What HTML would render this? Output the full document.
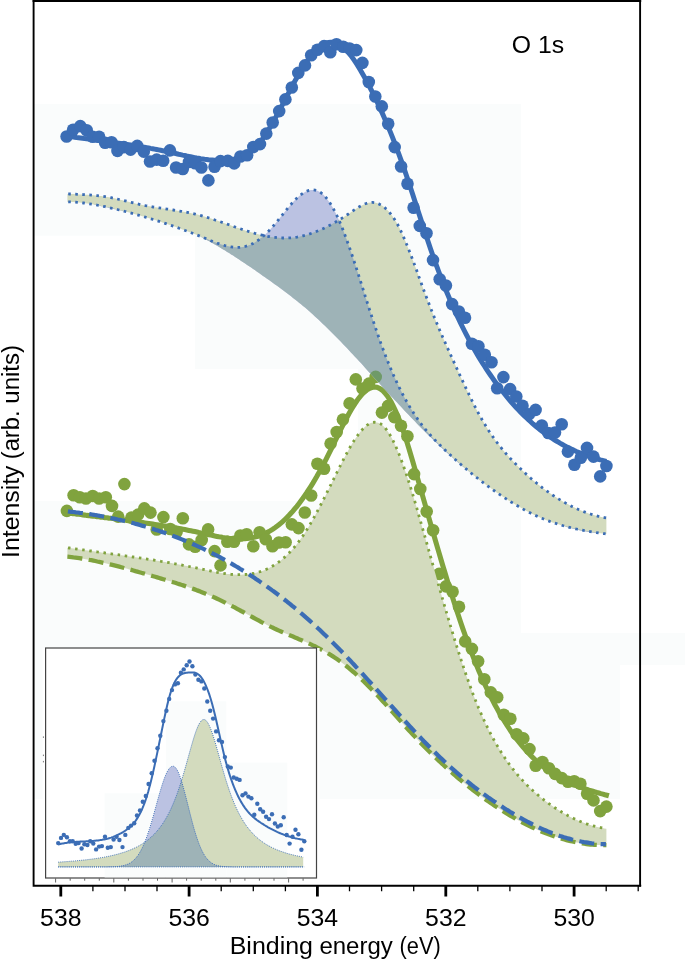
<!DOCTYPE html>
<html lang="en"><head><meta charset="utf-8"><title>O 1s XPS</title>
<style>html,body{margin:0;padding:0;background:#fff}svg{display:block}</style></head>
<body>
<svg width="685" height="959" viewBox="0 0 685 959">
<rect width="685" height="959" fill="#fff"/>
<rect x="34" y="104" width="487" height="131.7" fill="#fafcfc"/>
<rect x="195" y="235.7" width="326" height="133.3" fill="#fafcfc"/>
<rect x="358" y="369" width="163" height="132" fill="#fafcfc"/>
<rect x="34" y="501" width="487" height="132" fill="#fafcfc"/>
<rect x="34" y="633" width="651" height="32" fill="#fafcfc"/>
<rect x="34" y="665" width="586" height="134" fill="#fafcfc"/>
<path d="M67.4 547.7L69.4 548.0L71.4 548.3L73.4 548.6L75.4 548.8L77.4 549.1L79.4 549.4L81.4 549.7L83.4 549.9L85.4 550.2L87.4 550.5L89.4 550.8L91.4 551.0L93.4 551.3L95.3 551.6L97.3 551.9L99.3 552.1L101.3 552.4L103.3 552.7L105.3 553.0L107.3 553.2L109.3 553.5L111.3 553.8L113.3 554.1L115.3 554.4L117.3 554.6L119.3 554.9L121.3 555.2L123.3 555.5L125.3 555.8L127.3 556.1L129.3 556.4L131.3 556.7L133.3 557.0L135.3 557.3L137.3 557.6L139.3 557.9L141.3 558.2L143.3 558.5L145.3 558.8L147.3 559.1L149.2 559.4L151.2 559.7L153.2 560.0L155.2 560.4L157.2 560.7L159.2 561.0L161.2 561.4L163.2 561.7L165.2 562.0L167.2 562.4L169.2 562.7L171.2 563.1L173.2 563.4L175.2 563.8L177.2 564.2L179.2 564.5L181.2 564.9L183.2 565.3L185.2 565.7L187.2 566.1L189.2 566.5L191.2 566.9L193.2 567.3L195.2 567.7L197.2 568.1L199.2 568.5L201.2 569.0L203.1 569.4L205.1 569.8L207.1 570.2L209.1 570.7L211.1 571.1L213.1 571.5L215.1 571.9L217.1 572.3L219.1 572.6L221.1 573.0L223.1 573.3L225.1 573.6L227.1 573.9L229.1 574.1L231.1 574.3L233.1 574.5L235.1 574.6L237.1 574.7L239.1 574.7L241.1 574.7L243.1 574.6L245.1 574.5L247.1 574.4L249.1 574.1L251.1 573.8L253.1 573.5L255.1 573.1L257.0 572.6L259.0 572.0L261.0 571.4L263.0 570.7L265.0 569.9L267.0 569.0L269.0 568.0L271.0 567.0L273.0 565.8L275.0 564.6L277.0 563.3L279.0 561.8L281.0 560.3L283.0 558.6L285.0 556.9L287.0 555.0L289.0 553.0L291.0 550.9L293.0 548.7L295.0 546.4L297.0 543.9L299.0 541.3L301.0 538.6L303.0 535.7L305.0 532.7L307.0 529.5L309.0 526.3L310.9 522.9L312.9 519.4L314.9 515.8L316.9 512.1L318.9 508.3L320.9 504.5L322.9 500.6L324.9 496.7L326.9 492.7L328.9 488.7L330.9 484.7L332.9 480.6L334.9 476.6L336.9 472.5L338.9 468.5L340.9 464.5L342.9 460.6L344.9 456.7L346.9 453.0L348.9 449.3L350.9 445.8L352.9 442.5L354.9 439.3L356.9 436.4L358.9 433.7L360.9 431.2L362.9 428.9L364.8 427.0L366.8 425.3L368.8 424.0L370.8 423.0L372.8 422.4L374.8 422.2L376.8 422.4L378.8 423.0L380.8 424.0L382.8 425.6L384.8 427.6L386.8 430.1L388.8 433.0L390.8 436.3L392.8 440.1L394.8 444.2L396.8 448.7L398.8 453.5L400.8 458.7L402.8 464.1L404.8 469.8L406.8 475.7L408.8 481.8L410.8 488.2L412.8 494.7L414.8 501.3L416.8 508.1L418.7 514.9L420.7 521.9L422.7 528.9L424.7 535.9L426.7 543.0L428.7 550.1L430.7 557.2L432.7 564.2L434.7 571.3L436.7 578.4L438.7 585.4L440.7 592.4L442.7 599.4L444.7 606.3L446.7 613.1L448.7 619.9L450.7 626.6L452.7 633.2L454.7 639.8L456.7 646.2L458.7 652.5L460.7 658.7L462.7 664.8L464.7 670.7L466.7 676.5L468.7 682.2L470.7 687.7L472.6 693.0L474.6 698.1L476.6 703.1L478.6 708.0L480.6 712.6L482.6 717.1L484.6 721.5L486.6 725.7L488.6 729.8L490.6 733.7L492.6 737.5L494.6 741.1L496.6 744.6L498.6 748.0L500.6 751.3L502.6 754.5L504.6 757.5L506.6 760.5L508.6 763.3L510.6 766.0L512.6 768.6L514.6 771.2L516.6 773.6L518.6 776.0L520.6 778.2L522.6 780.4L524.6 782.5L526.5 784.6L528.5 786.5L530.5 788.5L532.5 790.3L534.5 792.1L536.5 793.8L538.5 795.5L540.5 797.2L542.5 798.8L544.5 800.3L546.5 801.8L548.5 803.3L550.5 804.7L552.5 806.1L554.5 807.5L556.5 808.8L558.5 810.1L560.5 811.3L562.5 812.5L564.5 813.7L566.5 814.8L568.5 815.9L570.5 816.9L572.5 817.9L574.5 818.9L576.5 819.8L578.5 820.7L580.4 821.5L582.4 822.3L584.4 823.1L586.4 823.8L588.4 824.4L590.4 825.1L592.4 825.7L594.4 826.2L596.4 826.7L598.4 827.2L600.4 827.6L602.4 828.0L604.4 828.4L606.4 828.7L606.4 845.2L604.4 845.2L602.4 845.2L600.4 845.1L598.4 845.0L596.4 844.9L594.4 844.8L592.4 844.7L590.4 844.5L588.4 844.3L586.4 844.0L584.4 843.7L582.4 843.4L580.4 843.1L578.5 842.8L576.5 842.4L574.5 842.0L572.5 841.5L570.5 841.1L568.5 840.6L566.5 840.1L564.5 839.5L562.5 839.0L560.5 838.4L558.5 837.8L556.5 837.1L554.5 836.4L552.5 835.8L550.5 835.0L548.5 834.3L546.5 833.5L544.5 832.7L542.5 831.9L540.5 831.1L538.5 830.2L536.5 829.3L534.5 828.4L532.5 827.5L530.5 826.6L528.5 825.6L526.5 824.6L524.6 823.6L522.6 822.5L520.6 821.4L518.6 820.4L516.6 819.3L514.6 818.1L512.6 817.0L510.6 815.8L508.6 814.6L506.6 813.4L504.6 812.2L502.6 810.9L500.6 809.6L498.6 808.3L496.6 807.0L494.6 805.7L492.6 804.3L490.6 803.0L488.6 801.6L486.6 800.2L484.6 798.7L482.6 797.3L480.6 795.8L478.6 794.3L476.6 792.8L474.6 791.3L472.6 789.8L470.7 788.2L468.7 786.6L466.7 785.0L464.7 783.4L462.7 781.8L460.7 780.1L458.7 778.5L456.7 776.8L454.7 775.0L452.7 773.3L450.7 771.6L448.7 769.8L446.7 768.0L444.7 766.2L442.7 764.3L440.7 762.5L438.7 760.6L436.7 758.7L434.7 756.8L432.7 754.9L430.7 752.9L428.7 751.0L426.7 749.0L424.7 747.0L422.7 744.9L420.7 742.9L418.7 740.8L416.8 738.7L414.8 736.6L412.8 734.5L410.8 732.3L408.8 730.2L406.8 728.0L404.8 725.8L402.8 723.5L400.8 721.3L398.8 719.1L396.8 716.8L394.8 714.6L392.8 712.3L390.8 710.1L388.8 707.9L386.8 705.6L384.8 703.4L382.8 701.2L380.8 699.0L378.8 696.9L376.8 694.7L374.8 692.6L372.8 690.5L370.8 688.5L368.8 686.4L366.8 684.4L364.8 682.5L362.9 680.6L360.9 678.7L358.9 676.8L356.9 675.0L354.9 673.2L352.9 671.5L350.9 669.8L348.9 668.1L346.9 666.5L344.9 664.9L342.9 663.4L340.9 661.9L338.9 660.5L336.9 659.1L334.9 657.7L332.9 656.4L330.9 655.1L328.9 653.9L326.9 652.7L324.9 651.6L322.9 650.4L320.9 649.4L318.9 648.3L316.9 647.3L314.9 646.3L312.9 645.4L310.9 644.4L309.0 643.5L307.0 642.6L305.0 641.7L303.0 640.9L301.0 640.0L299.0 639.2L297.0 638.3L295.0 637.5L293.0 636.6L291.0 635.8L289.0 635.0L287.0 634.1L285.0 633.3L283.0 632.4L281.0 631.5L279.0 630.6L277.0 629.7L275.0 628.8L273.0 627.8L271.0 626.9L269.0 625.9L267.0 624.9L265.0 623.8L263.0 622.8L261.0 621.8L259.0 620.7L257.0 619.6L255.1 618.6L253.1 617.5L251.1 616.4L249.1 615.3L247.1 614.2L245.1 613.1L243.1 612.0L241.1 611.0L239.1 609.9L237.1 608.8L235.1 607.7L233.1 606.7L231.1 605.6L229.1 604.6L227.1 603.6L225.1 602.6L223.1 601.6L221.1 600.6L219.1 599.6L217.1 598.7L215.1 597.8L213.1 596.9L211.1 596.0L209.1 595.2L207.1 594.3L205.1 593.5L203.1 592.7L201.2 591.9L199.2 591.1L197.2 590.4L195.2 589.6L193.2 588.9L191.2 588.2L189.2 587.5L187.2 586.8L185.2 586.1L183.2 585.4L181.2 584.8L179.2 584.1L177.2 583.5L175.2 582.8L173.2 582.2L171.2 581.6L169.2 581.0L167.2 580.4L165.2 579.8L163.2 579.2L161.2 578.6L159.2 578.0L157.2 577.4L155.2 576.8L153.2 576.2L151.2 575.7L149.2 575.1L147.3 574.5L145.3 573.9L143.3 573.3L141.3 572.8L139.3 572.2L137.3 571.6L135.3 571.1L133.3 570.5L131.3 569.9L129.3 569.4L127.3 568.8L125.3 568.3L123.3 567.8L121.3 567.2L119.3 566.7L117.3 566.2L115.3 565.7L113.3 565.2L111.3 564.7L109.3 564.2L107.3 563.7L105.3 563.2L103.3 562.8L101.3 562.3L99.3 561.9L97.3 561.5L95.3 561.0L93.4 560.6L91.4 560.2L89.4 559.9L87.4 559.5L85.4 559.2L83.4 558.8L81.4 558.5L79.4 558.2L77.4 557.9L75.4 557.6L73.4 557.4L71.4 557.1L69.4 556.9L67.4 556.7Z" fill="#d3dbbe"/>
<path d="M67.4 556.7L69.4 556.9L71.4 557.1L73.4 557.4L75.4 557.6L77.4 557.9L79.4 558.2L81.4 558.5L83.4 558.8L85.4 559.2L87.4 559.5L89.4 559.9L91.4 560.2L93.4 560.6L95.3 561.0L97.3 561.5L99.3 561.9L101.3 562.3L103.3 562.8L105.3 563.2L107.3 563.7L109.3 564.2L111.3 564.7L113.3 565.2L115.3 565.7L117.3 566.2L119.3 566.7L121.3 567.2L123.3 567.8L125.3 568.3L127.3 568.8L129.3 569.4L131.3 569.9L133.3 570.5L135.3 571.1L137.3 571.6L139.3 572.2L141.3 572.8L143.3 573.3L145.3 573.9L147.3 574.5L149.2 575.1L151.2 575.7L153.2 576.2L155.2 576.8L157.2 577.4L159.2 578.0L161.2 578.6L163.2 579.2L165.2 579.8L167.2 580.4L169.2 581.0L171.2 581.6L173.2 582.2L175.2 582.8L177.2 583.5L179.2 584.1L181.2 584.8L183.2 585.4L185.2 586.1L187.2 586.8L189.2 587.5L191.2 588.2L193.2 588.9L195.2 589.6L197.2 590.4L199.2 591.1L201.2 591.9L203.1 592.7L205.1 593.5L207.1 594.3L209.1 595.2L211.1 596.0L213.1 596.9L215.1 597.8L217.1 598.7L219.1 599.6L221.1 600.6L223.1 601.6L225.1 602.6L227.1 603.6L229.1 604.6L231.1 605.6L233.1 606.7L235.1 607.7L237.1 608.8L239.1 609.9L241.1 611.0L243.1 612.0L245.1 613.1L247.1 614.2L249.1 615.3L251.1 616.4L253.1 617.5L255.1 618.6L257.0 619.6L259.0 620.7L261.0 621.8L263.0 622.8L265.0 623.8L267.0 624.9L269.0 625.9L271.0 626.9L273.0 627.8L275.0 628.8L277.0 629.7L279.0 630.6L281.0 631.5L283.0 632.4L285.0 633.3L287.0 634.1L289.0 635.0L291.0 635.8L293.0 636.6L295.0 637.5L297.0 638.3L299.0 639.2L301.0 640.0L303.0 640.9L305.0 641.7L307.0 642.6L309.0 643.5L310.9 644.4L312.9 645.4L314.9 646.3L316.9 647.3L318.9 648.3L320.9 649.4L322.9 650.4L324.9 651.6L326.9 652.7L328.9 653.9L330.9 655.1L332.9 656.4L334.9 657.7L336.9 659.1L338.9 660.5L340.9 661.9L342.9 663.4L344.9 664.9L346.9 666.5L348.9 668.1L350.9 669.8L352.9 671.5L354.9 673.2L356.9 675.0L358.9 676.8L360.9 678.7L362.9 680.6L364.8 682.5L366.8 684.4L368.8 686.4L370.8 688.5L372.8 690.5L374.8 692.6L376.8 694.7L378.8 696.9L380.8 699.0L382.8 701.2L384.8 703.4L386.8 705.6L388.8 707.9L390.8 710.1L392.8 712.3L394.8 714.6L396.8 716.8L398.8 719.1L400.8 721.3L402.8 723.5L404.8 725.8L406.8 728.0L408.8 730.2L410.8 732.3L412.8 734.5L414.8 736.6L416.8 738.7L418.7 740.8L420.7 742.9L422.7 744.9L424.7 747.0L426.7 749.0L428.7 751.0L430.7 752.9L432.7 754.9L434.7 756.8L436.7 758.7L438.7 760.6L440.7 762.5L442.7 764.3L444.7 766.2L446.7 768.0L448.7 769.8L450.7 771.6L452.7 773.3L454.7 775.0L456.7 776.8L458.7 778.5L460.7 780.1L462.7 781.8L464.7 783.4L466.7 785.0L468.7 786.6L470.7 788.2L472.6 789.8L474.6 791.3L476.6 792.8L478.6 794.3L480.6 795.8L482.6 797.3L484.6 798.7L486.6 800.2L488.6 801.6L490.6 803.0L492.6 804.3L494.6 805.7L496.6 807.0L498.6 808.3L500.6 809.6L502.6 810.9L504.6 812.2L506.6 813.4L508.6 814.6L510.6 815.8L512.6 817.0L514.6 818.1L516.6 819.3L518.6 820.4L520.6 821.4L522.6 822.5L524.6 823.6L526.5 824.6L528.5 825.6L530.5 826.6L532.5 827.5L534.5 828.4L536.5 829.3L538.5 830.2L540.5 831.1L542.5 831.9L544.5 832.7L546.5 833.5L548.5 834.3L550.5 835.0L552.5 835.8L554.5 836.4L556.5 837.1L558.5 837.8L560.5 838.4L562.5 839.0L564.5 839.5L566.5 840.1L568.5 840.6L570.5 841.1L572.5 841.5L574.5 842.0L576.5 842.4L578.5 842.8L580.4 843.1L582.4 843.4L584.4 843.7L586.4 844.0L588.4 844.3L590.4 844.5L592.4 844.7L594.4 844.8L596.4 844.9L598.4 845.0L600.4 845.1L602.4 845.2L604.4 845.2L606.4 845.2" fill="none" stroke="#80a33e" stroke-width="4.3" stroke-dasharray="15.05 6.45"/>
<path d="M67.4 547.7L69.4 548.0L71.4 548.3L73.4 548.6L75.4 548.8L77.4 549.1L79.4 549.4L81.4 549.7L83.4 549.9L85.4 550.2L87.4 550.5L89.4 550.8L91.4 551.0L93.4 551.3L95.3 551.6L97.3 551.9L99.3 552.1L101.3 552.4L103.3 552.7L105.3 553.0L107.3 553.2L109.3 553.5L111.3 553.8L113.3 554.1L115.3 554.4L117.3 554.6L119.3 554.9L121.3 555.2L123.3 555.5L125.3 555.8L127.3 556.1L129.3 556.4L131.3 556.7L133.3 557.0L135.3 557.3L137.3 557.6L139.3 557.9L141.3 558.2L143.3 558.5L145.3 558.8L147.3 559.1L149.2 559.4L151.2 559.7L153.2 560.0L155.2 560.4L157.2 560.7L159.2 561.0L161.2 561.4L163.2 561.7L165.2 562.0L167.2 562.4L169.2 562.7L171.2 563.1L173.2 563.4L175.2 563.8L177.2 564.2L179.2 564.5L181.2 564.9L183.2 565.3L185.2 565.7L187.2 566.1L189.2 566.5L191.2 566.9L193.2 567.3L195.2 567.7L197.2 568.1L199.2 568.5L201.2 569.0L203.1 569.4L205.1 569.8L207.1 570.2L209.1 570.7L211.1 571.1L213.1 571.5L215.1 571.9L217.1 572.3L219.1 572.6L221.1 573.0L223.1 573.3L225.1 573.6L227.1 573.9L229.1 574.1L231.1 574.3L233.1 574.5L235.1 574.6L237.1 574.7L239.1 574.7L241.1 574.7L243.1 574.6L245.1 574.5L247.1 574.4L249.1 574.1L251.1 573.8L253.1 573.5L255.1 573.1L257.0 572.6L259.0 572.0L261.0 571.4L263.0 570.7L265.0 569.9L267.0 569.0L269.0 568.0L271.0 567.0L273.0 565.8L275.0 564.6L277.0 563.3L279.0 561.8L281.0 560.3L283.0 558.6L285.0 556.9L287.0 555.0L289.0 553.0L291.0 550.9L293.0 548.7L295.0 546.4L297.0 543.9L299.0 541.3L301.0 538.6L303.0 535.7L305.0 532.7L307.0 529.5L309.0 526.3L310.9 522.9L312.9 519.4L314.9 515.8L316.9 512.1L318.9 508.3L320.9 504.5L322.9 500.6L324.9 496.7L326.9 492.7L328.9 488.7L330.9 484.7L332.9 480.6L334.9 476.6L336.9 472.5L338.9 468.5L340.9 464.5L342.9 460.6L344.9 456.7L346.9 453.0L348.9 449.3L350.9 445.8L352.9 442.5L354.9 439.3L356.9 436.4L358.9 433.7L360.9 431.2L362.9 428.9L364.8 427.0L366.8 425.3L368.8 424.0L370.8 423.0L372.8 422.4L374.8 422.2L376.8 422.4L378.8 423.0L380.8 424.0L382.8 425.6L384.8 427.6L386.8 430.1L388.8 433.0L390.8 436.3L392.8 440.1L394.8 444.2L396.8 448.7L398.8 453.5L400.8 458.7L402.8 464.1L404.8 469.8L406.8 475.7L408.8 481.8L410.8 488.2L412.8 494.7L414.8 501.3L416.8 508.1L418.7 514.9L420.7 521.9L422.7 528.9L424.7 535.9L426.7 543.0L428.7 550.1L430.7 557.2L432.7 564.2L434.7 571.3L436.7 578.4L438.7 585.4L440.7 592.4L442.7 599.4L444.7 606.3L446.7 613.1L448.7 619.9L450.7 626.6L452.7 633.2L454.7 639.8L456.7 646.2L458.7 652.5L460.7 658.7L462.7 664.8L464.7 670.7L466.7 676.5L468.7 682.2L470.7 687.7L472.6 693.0L474.6 698.1L476.6 703.1L478.6 708.0L480.6 712.6L482.6 717.1L484.6 721.5L486.6 725.7L488.6 729.8L490.6 733.7L492.6 737.5L494.6 741.1L496.6 744.6L498.6 748.0L500.6 751.3L502.6 754.5L504.6 757.5L506.6 760.5L508.6 763.3L510.6 766.0L512.6 768.6L514.6 771.2L516.6 773.6L518.6 776.0L520.6 778.2L522.6 780.4L524.6 782.5L526.5 784.6L528.5 786.5L530.5 788.5L532.5 790.3L534.5 792.1L536.5 793.8L538.5 795.5L540.5 797.2L542.5 798.8L544.5 800.3L546.5 801.8L548.5 803.3L550.5 804.7L552.5 806.1L554.5 807.5L556.5 808.8L558.5 810.1L560.5 811.3L562.5 812.5L564.5 813.7L566.5 814.8L568.5 815.9L570.5 816.9L572.5 817.9L574.5 818.9L576.5 819.8L578.5 820.7L580.4 821.5L582.4 822.3L584.4 823.1L586.4 823.8L588.4 824.4L590.4 825.1L592.4 825.7L594.4 826.2L596.4 826.7L598.4 827.2L600.4 827.6L602.4 828.0L604.4 828.4L606.4 828.7" fill="none" stroke="#80a33e" stroke-width="2.8" stroke-dasharray="2.5 4.66" stroke-dashoffset="-0.6"/>
<path d="M66.9 512.8L68.9 513.1L70.9 513.3L72.9 513.6L74.9 513.8L76.9 514.1L78.9 514.3L80.9 514.6L82.9 514.9L84.9 515.1L86.9 515.4L88.9 515.6L90.9 515.9L92.9 516.1L94.9 516.3L96.9 516.6L98.9 516.8L100.9 517.1L102.9 517.3L104.9 517.6L106.9 517.8L108.9 518.1L110.9 518.3L112.9 518.6L114.9 518.9L116.9 519.1L118.9 519.4L120.9 519.6L122.9 519.9L124.9 520.1L126.9 520.4L128.9 520.7L130.9 520.9L132.9 521.2L134.9 521.5L136.9 521.8L138.9 522.0L140.9 522.3L142.9 522.6L144.9 522.9L146.9 523.2L148.9 523.5L150.9 523.8L152.9 524.1L154.9 524.4L156.9 524.7L158.9 525.0L160.9 525.3L162.9 525.7L164.9 526.0L166.9 526.3L168.9 526.7L170.9 527.0L172.9 527.4L174.9 527.7L176.9 528.1L178.9 528.4L180.9 528.8L182.9 529.2L184.9 529.6L186.9 530.0L188.9 530.4L190.9 530.8L192.9 531.2L194.9 531.6L196.9 532.0L198.9 532.5L200.9 532.9L202.9 533.3L204.9 533.8L206.9 534.2L208.9 534.7L210.9 535.1L212.9 535.5L214.9 536.0L216.9 536.4L218.9 536.8L220.9 537.1L222.9 537.5L224.9 537.8L226.9 538.0L228.9 538.3L230.9 538.5L232.9 538.7L234.9 538.8L236.9 538.9L238.9 538.9L240.9 538.9L242.9 538.8L244.9 538.7L246.9 538.5L248.9 538.3L250.9 537.9L252.9 537.6L254.9 537.1L256.9 536.6L258.9 535.9L260.9 535.2L262.9 534.5L264.9 533.6L266.9 532.6L268.9 531.6L270.9 530.4L272.9 529.2L274.9 527.8L276.9 526.3L278.9 524.8L280.9 523.1L282.9 521.4L284.9 519.5L286.9 517.6L288.9 515.5L290.9 513.3L292.9 511.1L294.9 508.7L296.9 506.3L298.9 503.7L300.9 501.0L302.9 498.3L304.9 495.4L306.9 492.5L308.9 489.4L310.9 486.3L312.9 483.1L314.9 479.7L316.9 476.3L318.9 472.7L320.9 469.1L322.9 465.4L324.9 461.6L326.9 457.7L328.9 453.7L330.9 449.6L332.9 445.5L334.9 441.4L336.9 437.3L338.9 433.2L340.9 429.2L342.9 425.2L344.9 421.3L346.9 417.5L348.9 413.8L350.9 410.3L352.9 407.0L354.9 403.8L356.9 400.8L358.9 398.1L360.9 395.7L362.9 393.4L364.9 391.5L366.9 389.9L368.9 388.7L370.9 387.8L372.9 387.2L374.9 387.1L376.9 387.3L378.9 388.0L380.9 389.2L382.9 390.8L384.9 392.9L386.9 395.4L388.9 398.3L390.9 401.6L392.9 405.3L394.9 409.5L396.9 414.0L398.9 418.9L400.9 424.2L402.9 429.8L404.9 435.8L406.9 442.0L408.9 448.5L410.9 455.2L412.9 462.0L414.9 468.9L416.9 475.9L418.9 482.9L420.9 489.9L422.9 496.9L424.9 503.9L426.9 510.9L428.9 517.9L430.9 524.9L432.9 531.8L434.9 538.7L436.9 545.6L438.9 552.4L440.9 559.2L442.9 565.9L444.9 572.6L446.9 579.2L448.9 585.7L450.9 592.1L452.9 598.5L454.9 604.8L456.9 610.9L458.9 617.0L460.9 623.0L462.9 628.8L464.9 634.5L466.9 640.1L468.9 645.6L470.9 650.9L472.9 656.1L474.9 661.2L476.9 666.1L478.9 670.9L480.9 675.5L482.9 680.1L484.9 684.5L486.9 688.7L488.9 692.9L490.9 696.9L492.9 700.9L494.9 704.7L496.9 708.3L498.9 711.9L500.9 715.4L502.9 718.8L504.9 722.0L506.9 725.2L508.9 728.2L510.9 731.2L512.9 734.0L514.9 736.8L516.9 739.4L518.9 742.0L520.9 744.5L522.9 746.9L524.9 749.2L526.9 751.4L528.9 753.6L530.9 755.6L532.9 757.6L534.9 759.5L536.9 761.4L538.9 763.1L540.9 764.8L542.9 766.5L544.9 768.0L546.9 769.5L548.9 771.0L550.9 772.4L552.9 773.7L554.9 775.0L556.9 776.2L558.9 777.3L560.9 778.4L562.9 779.5L564.9 780.5L566.9 781.5L568.9 782.5L570.9 783.4L572.9 784.2L574.9 785.1L576.9 785.9L578.9 786.6L580.9 787.4L582.9 788.1L584.9 788.8L586.9 789.4L588.9 790.1L590.9 790.7L592.9 791.3L594.9 791.9L596.9 792.5L598.9 793.0L600.9 793.6L602.9 794.1L604.9 794.7L606.9 795.2L608.9 795.8" fill="none" stroke="#80a33e" stroke-width="5.1"/>
<g fill="#80a33e"><circle cx="66.9" cy="510.9" r="6.3"/><circle cx="73.6" cy="495.2" r="6.3"/><circle cx="79.8" cy="497.2" r="6.3"/><circle cx="86" cy="498.5" r="6.3"/><circle cx="92.7" cy="496" r="6.3"/><circle cx="99.1" cy="498.5" r="6.3"/><circle cx="105.8" cy="497.2" r="6.3"/><circle cx="112" cy="505.9" r="6.3"/><circle cx="118.2" cy="516.6" r="6.3"/><circle cx="124.4" cy="484.1" r="6.3"/><circle cx="131.4" cy="517.6" r="6.3"/><circle cx="138.1" cy="514.6" r="6.3"/><circle cx="144.3" cy="508.4" r="6.3"/><circle cx="150.5" cy="512.6" r="6.3"/><circle cx="156.7" cy="529.5" r="6.3"/><circle cx="163.4" cy="517.1" r="6.3"/><circle cx="170.3" cy="529" r="6.3"/><circle cx="176.6" cy="532" r="6.3"/><circle cx="182.8" cy="518.3" r="6.3"/><circle cx="189" cy="544.4" r="6.3"/><circle cx="195.2" cy="546.8" r="6.3"/><circle cx="201.7" cy="540" r="6.3"/><circle cx="208.1" cy="529.4" r="6.3"/><circle cx="214.6" cy="551.1" r="6.3"/><circle cx="220.5" cy="565.4" r="6.3"/><circle cx="227.3" cy="541.7" r="6.3"/><circle cx="234" cy="541.7" r="6.3"/><circle cx="240.4" cy="535.5" r="6.3"/><circle cx="246.7" cy="534.3" r="6.3"/><circle cx="253.3" cy="546.2" r="6.3"/><circle cx="259.6" cy="532.3" r="6.3"/><circle cx="265.8" cy="539.3" r="6.3"/><circle cx="272.5" cy="546.2" r="6.3"/><circle cx="278.9" cy="542.5" r="6.3"/><circle cx="285.6" cy="542.2" r="6.3"/><circle cx="291.8" cy="524.4" r="6.3"/><circle cx="298.5" cy="528.1" r="6.3"/><circle cx="304.8" cy="512.5" r="6.3"/><circle cx="311.2" cy="495.5" r="6.3"/><circle cx="317.4" cy="463.7" r="6.3"/><circle cx="324.1" cy="468.8" r="6.3"/><circle cx="330.6" cy="443.6" r="6.3"/><circle cx="336.7" cy="432" r="6.3"/><circle cx="342.9" cy="419.6" r="6.3"/><circle cx="349.6" cy="403.4" r="6.3"/><circle cx="355.8" cy="379.4" r="6.3"/><circle cx="362.5" cy="388.5" r="6.3"/><circle cx="369" cy="383.6" r="6.3"/><circle cx="375.7" cy="376.9" r="6.3"/><circle cx="381.9" cy="412.6" r="6.3"/><circle cx="388.1" cy="405.9" r="6.3"/><circle cx="394.3" cy="417.1" r="6.3"/><circle cx="401" cy="425.8" r="6.3"/><circle cx="407.4" cy="436.2" r="6.3"/><circle cx="414.1" cy="474.1" r="6.3"/><circle cx="420.3" cy="489" r="6.3"/><circle cx="426.7" cy="511.6" r="6.3"/><circle cx="433.1" cy="530.3" r="6.3"/><circle cx="439.2" cy="573.9" r="6.3"/><circle cx="445.9" cy="586.4" r="6.3"/><circle cx="452.6" cy="591.8" r="6.3"/><circle cx="459" cy="606.7" r="6.3"/><circle cx="465.2" cy="641.4" r="6.3"/><circle cx="471.9" cy="648.9" r="6.3"/><circle cx="478.1" cy="661.3" r="6.3"/><circle cx="484.3" cy="679.2" r="6.3"/><circle cx="490.8" cy="692.4" r="6.3"/><circle cx="497.2" cy="697.3" r="6.3"/><circle cx="503.8" cy="714.7" r="6.3"/><circle cx="510.4" cy="718.8" r="6.3"/><circle cx="516.6" cy="734.2" r="6.3"/><circle cx="523.3" cy="738.4" r="6.3"/><circle cx="529.5" cy="749.1" r="6.3"/><circle cx="535.7" cy="765.7" r="6.3"/><circle cx="542.4" cy="762" r="6.3"/><circle cx="548.9" cy="768.2" r="6.3"/><circle cx="555.1" cy="773.9" r="6.3"/><circle cx="561.8" cy="778.1" r="6.3"/><circle cx="568" cy="781.8" r="6.3"/><circle cx="574.2" cy="781.3" r="6.3"/><circle cx="580.4" cy="783.8" r="6.3"/><circle cx="587.1" cy="793.7" r="6.3"/><circle cx="593.5" cy="800.4" r="6.3"/><circle cx="600.2" cy="811.1" r="6.3"/><circle cx="606.4" cy="806.6" r="6.3"/></g>
<clipPath id="cd"><rect x="428" y="566" width="12" height="17"/></clipPath>
<path d="M67.4 547.7L69.4 548.0L71.4 548.3L73.4 548.6L75.4 548.8L77.4 549.1L79.4 549.4L81.4 549.7L83.4 549.9L85.4 550.2L87.4 550.5L89.4 550.8L91.4 551.0L93.4 551.3L95.3 551.6L97.3 551.9L99.3 552.1L101.3 552.4L103.3 552.7L105.3 553.0L107.3 553.2L109.3 553.5L111.3 553.8L113.3 554.1L115.3 554.4L117.3 554.6L119.3 554.9L121.3 555.2L123.3 555.5L125.3 555.8L127.3 556.1L129.3 556.4L131.3 556.7L133.3 557.0L135.3 557.3L137.3 557.6L139.3 557.9L141.3 558.2L143.3 558.5L145.3 558.8L147.3 559.1L149.2 559.4L151.2 559.7L153.2 560.0L155.2 560.4L157.2 560.7L159.2 561.0L161.2 561.4L163.2 561.7L165.2 562.0L167.2 562.4L169.2 562.7L171.2 563.1L173.2 563.4L175.2 563.8L177.2 564.2L179.2 564.5L181.2 564.9L183.2 565.3L185.2 565.7L187.2 566.1L189.2 566.5L191.2 566.9L193.2 567.3L195.2 567.7L197.2 568.1L199.2 568.5L201.2 569.0L203.1 569.4L205.1 569.8L207.1 570.2L209.1 570.7L211.1 571.1L213.1 571.5L215.1 571.9L217.1 572.3L219.1 572.6L221.1 573.0L223.1 573.3L225.1 573.6L227.1 573.9L229.1 574.1L231.1 574.3L233.1 574.5L235.1 574.6L237.1 574.7L239.1 574.7L241.1 574.7L243.1 574.6L245.1 574.5L247.1 574.4L249.1 574.1L251.1 573.8L253.1 573.5L255.1 573.1L257.0 572.6L259.0 572.0L261.0 571.4L263.0 570.7L265.0 569.9L267.0 569.0L269.0 568.0L271.0 567.0L273.0 565.8L275.0 564.6L277.0 563.3L279.0 561.8L281.0 560.3L283.0 558.6L285.0 556.9L287.0 555.0L289.0 553.0L291.0 550.9L293.0 548.7L295.0 546.4L297.0 543.9L299.0 541.3L301.0 538.6L303.0 535.7L305.0 532.7L307.0 529.5L309.0 526.3L310.9 522.9L312.9 519.4L314.9 515.8L316.9 512.1L318.9 508.3L320.9 504.5L322.9 500.6L324.9 496.7L326.9 492.7L328.9 488.7L330.9 484.7L332.9 480.6L334.9 476.6L336.9 472.5L338.9 468.5L340.9 464.5L342.9 460.6L344.9 456.7L346.9 453.0L348.9 449.3L350.9 445.8L352.9 442.5L354.9 439.3L356.9 436.4L358.9 433.7L360.9 431.2L362.9 428.9L364.8 427.0L366.8 425.3L368.8 424.0L370.8 423.0L372.8 422.4L374.8 422.2L376.8 422.4L378.8 423.0L380.8 424.0L382.8 425.6L384.8 427.6L386.8 430.1L388.8 433.0L390.8 436.3L392.8 440.1L394.8 444.2L396.8 448.7L398.8 453.5L400.8 458.7L402.8 464.1L404.8 469.8L406.8 475.7L408.8 481.8L410.8 488.2L412.8 494.7L414.8 501.3L416.8 508.1L418.7 514.9L420.7 521.9L422.7 528.9L424.7 535.9L426.7 543.0L428.7 550.1L430.7 557.2L432.7 564.2L434.7 571.3L436.7 578.4L438.7 585.4L440.7 592.4L442.7 599.4L444.7 606.3L446.7 613.1L448.7 619.9L450.7 626.6L452.7 633.2L454.7 639.8L456.7 646.2L458.7 652.5L460.7 658.7L462.7 664.8L464.7 670.7L466.7 676.5L468.7 682.2L470.7 687.7L472.6 693.0L474.6 698.1L476.6 703.1L478.6 708.0L480.6 712.6L482.6 717.1L484.6 721.5L486.6 725.7L488.6 729.8L490.6 733.7L492.6 737.5L494.6 741.1L496.6 744.6L498.6 748.0L500.6 751.3L502.6 754.5L504.6 757.5L506.6 760.5L508.6 763.3L510.6 766.0L512.6 768.6L514.6 771.2L516.6 773.6L518.6 776.0L520.6 778.2L522.6 780.4L524.6 782.5L526.5 784.6L528.5 786.5L530.5 788.5L532.5 790.3L534.5 792.1L536.5 793.8L538.5 795.5L540.5 797.2L542.5 798.8L544.5 800.3L546.5 801.8L548.5 803.3L550.5 804.7L552.5 806.1L554.5 807.5L556.5 808.8L558.5 810.1L560.5 811.3L562.5 812.5L564.5 813.7L566.5 814.8L568.5 815.9L570.5 816.9L572.5 817.9L574.5 818.9L576.5 819.8L578.5 820.7L580.4 821.5L582.4 822.3L584.4 823.1L586.4 823.8L588.4 824.4L590.4 825.1L592.4 825.7L594.4 826.2L596.4 826.7L598.4 827.2L600.4 827.6L602.4 828.0L604.4 828.4L606.4 828.7L606.4 845.2L604.4 845.2L602.4 845.2L600.4 845.1L598.4 845.0L596.4 844.9L594.4 844.8L592.4 844.7L590.4 844.5L588.4 844.3L586.4 844.0L584.4 843.7L582.4 843.4L580.4 843.1L578.5 842.8L576.5 842.4L574.5 842.0L572.5 841.5L570.5 841.1L568.5 840.6L566.5 840.1L564.5 839.5L562.5 839.0L560.5 838.4L558.5 837.8L556.5 837.1L554.5 836.4L552.5 835.8L550.5 835.0L548.5 834.3L546.5 833.5L544.5 832.7L542.5 831.9L540.5 831.1L538.5 830.2L536.5 829.3L534.5 828.4L532.5 827.5L530.5 826.6L528.5 825.6L526.5 824.6L524.6 823.6L522.6 822.5L520.6 821.4L518.6 820.4L516.6 819.3L514.6 818.1L512.6 817.0L510.6 815.8L508.6 814.6L506.6 813.4L504.6 812.2L502.6 810.9L500.6 809.6L498.6 808.3L496.6 807.0L494.6 805.7L492.6 804.3L490.6 803.0L488.6 801.6L486.6 800.2L484.6 798.7L482.6 797.3L480.6 795.8L478.6 794.3L476.6 792.8L474.6 791.3L472.6 789.8L470.7 788.2L468.7 786.6L466.7 785.0L464.7 783.4L462.7 781.8L460.7 780.1L458.7 778.5L456.7 776.8L454.7 775.0L452.7 773.3L450.7 771.6L448.7 769.8L446.7 768.0L444.7 766.2L442.7 764.3L440.7 762.5L438.7 760.6L436.7 758.7L434.7 756.8L432.7 754.9L430.7 752.9L428.7 751.0L426.7 749.0L424.7 747.0L422.7 744.9L420.7 742.9L418.7 740.8L416.8 738.7L414.8 736.6L412.8 734.5L410.8 732.3L408.8 730.2L406.8 728.0L404.8 725.8L402.8 723.5L400.8 721.3L398.8 719.1L396.8 716.8L394.8 714.6L392.8 712.3L390.8 710.1L388.8 707.9L386.8 705.6L384.8 703.4L382.8 701.2L380.8 699.0L378.8 696.9L376.8 694.7L374.8 692.6L372.8 690.5L370.8 688.5L368.8 686.4L366.8 684.4L364.8 682.5L362.9 680.6L360.9 678.7L358.9 676.8L356.9 675.0L354.9 673.2L352.9 671.5L350.9 669.8L348.9 668.1L346.9 666.5L344.9 664.9L342.9 663.4L340.9 661.9L338.9 660.5L336.9 659.1L334.9 657.7L332.9 656.4L330.9 655.1L328.9 653.9L326.9 652.7L324.9 651.6L322.9 650.4L320.9 649.4L318.9 648.3L316.9 647.3L314.9 646.3L312.9 645.4L310.9 644.4L309.0 643.5L307.0 642.6L305.0 641.7L303.0 640.9L301.0 640.0L299.0 639.2L297.0 638.3L295.0 637.5L293.0 636.6L291.0 635.8L289.0 635.0L287.0 634.1L285.0 633.3L283.0 632.4L281.0 631.5L279.0 630.6L277.0 629.7L275.0 628.8L273.0 627.8L271.0 626.9L269.0 625.9L267.0 624.9L265.0 623.8L263.0 622.8L261.0 621.8L259.0 620.7L257.0 619.6L255.1 618.6L253.1 617.5L251.1 616.4L249.1 615.3L247.1 614.2L245.1 613.1L243.1 612.0L241.1 611.0L239.1 609.9L237.1 608.8L235.1 607.7L233.1 606.7L231.1 605.6L229.1 604.6L227.1 603.6L225.1 602.6L223.1 601.6L221.1 600.6L219.1 599.6L217.1 598.7L215.1 597.8L213.1 596.9L211.1 596.0L209.1 595.2L207.1 594.3L205.1 593.5L203.1 592.7L201.2 591.9L199.2 591.1L197.2 590.4L195.2 589.6L193.2 588.9L191.2 588.2L189.2 587.5L187.2 586.8L185.2 586.1L183.2 585.4L181.2 584.8L179.2 584.1L177.2 583.5L175.2 582.8L173.2 582.2L171.2 581.6L169.2 581.0L167.2 580.4L165.2 579.8L163.2 579.2L161.2 578.6L159.2 578.0L157.2 577.4L155.2 576.8L153.2 576.2L151.2 575.7L149.2 575.1L147.3 574.5L145.3 573.9L143.3 573.3L141.3 572.8L139.3 572.2L137.3 571.6L135.3 571.1L133.3 570.5L131.3 569.9L129.3 569.4L127.3 568.8L125.3 568.3L123.3 567.8L121.3 567.2L119.3 566.7L117.3 566.2L115.3 565.7L113.3 565.2L111.3 564.7L109.3 564.2L107.3 563.7L105.3 563.2L103.3 562.8L101.3 562.3L99.3 561.9L97.3 561.5L95.3 561.0L93.4 560.6L91.4 560.2L89.4 559.9L87.4 559.5L85.4 559.2L83.4 558.8L81.4 558.5L79.4 558.2L77.4 557.9L75.4 557.6L73.4 557.4L71.4 557.1L69.4 556.9L67.4 556.7Z" fill="#d3dbbe" clip-path="url(#cd)"/>
<path d="M67.9 511.3L69.9 511.6L71.9 511.8L73.9 512.0L75.9 512.3L77.9 512.5L79.9 512.8L81.9 513.0L83.9 513.3L85.9 513.6L87.9 513.9L89.9 514.2L91.9 514.5L93.9 514.8L95.9 515.2L97.9 515.5L99.9 515.9L101.9 516.2L103.9 516.6L105.9 517.0L107.9 517.4L109.9 517.8L111.9 518.2L113.9 518.6L115.9 519.0L117.9 519.5L119.9 519.9L121.9 520.4L123.9 520.8L125.9 521.3L127.9 521.8L129.9 522.3L131.9 522.8L133.9 523.3L135.9 523.9L137.9 524.4L139.9 525.0L141.9 525.6L143.9 526.1L145.9 526.7L147.9 527.3L149.9 527.9L151.9 528.6L153.9 529.2L155.9 529.9L157.9 530.5L159.9 531.2L161.9 531.9L163.9 532.6L165.9 533.3L167.9 534.0L169.9 534.7L171.9 535.5L173.9 536.2L175.9 537.0L177.9 537.8L179.9 538.6L181.9 539.4L183.9 540.2L185.9 541.0L187.9 541.9L189.9 542.7L191.9 543.6L193.9 544.5L195.9 545.4L197.9 546.3L199.9 547.2L201.9 548.2L203.9 549.1L205.9 550.1L207.9 551.1L209.9 552.1L211.9 553.1L213.9 554.1L215.9 555.1L217.9 556.2L219.9 557.2L221.9 558.3L223.9 559.4L225.9 560.5L227.9 561.6L229.9 562.8L231.9 563.9L233.9 565.1L235.9 566.3L237.9 567.4L239.9 568.7L241.9 569.9L243.9 571.1L245.9 572.4L247.9 573.6L249.9 574.9L251.9 576.2L253.9 577.5L255.9 578.9L257.9 580.2L259.9 581.6L261.9 583.0L263.9 584.3L265.9 585.8L267.9 587.2L269.9 588.6L271.9 590.1L273.9 591.5L275.9 593.0L277.9 594.5L279.9 596.1L281.9 597.6L283.9 599.2L285.9 600.7L287.9 602.3L289.9 603.9L291.9 605.6L293.9 607.2L295.9 608.8L297.9 610.5L299.9 612.2L301.9 613.9L303.9 615.6L305.9 617.4L307.9 619.1L309.9 620.9L311.9 622.7L313.9 624.5L315.9 626.4L317.9 628.2L319.9 630.1L321.9 632.0L323.9 633.9L325.9 635.8L327.9 637.7L329.9 639.7L331.9 641.7L333.9 643.7L335.9 645.7L337.9 647.7L339.9 649.8L341.9 651.8L343.9 653.9L345.9 656.0L347.9 658.1L349.9 660.2L351.9 662.4L353.9 664.5L355.9 666.7L357.9 668.8L359.9 671.0L361.9 673.2L363.9 675.4L365.9 677.6L367.9 679.8L369.9 682.0L371.9 684.2L373.9 686.4L375.9 688.7L377.9 690.9L379.9 693.1L381.9 695.4L383.9 697.6L385.9 699.8L387.9 702.1L389.9 704.3L391.9 706.5L393.9 708.7L395.9 711.0L397.9 713.2L399.9 715.4L401.9 717.6L403.9 719.8L405.9 722.0L407.9 724.1L409.9 726.3L411.9 728.5L413.9 730.6L415.9 732.8L417.9 734.9L419.9 737.0L421.9 739.1L423.9 741.2L425.9 743.2L427.9 745.3L429.9 747.3L431.9 749.3L433.9 751.3L435.9 753.3L437.9 755.3L439.9 757.2L441.9 759.1L443.9 761.0L445.9 762.9L447.9 764.7L449.9 766.6L451.9 768.3L453.9 770.1L455.9 771.9L457.9 773.6L459.9 775.3L461.9 777.0L463.9 778.7L465.9 780.3L467.9 781.9L469.9 783.5L471.9 785.1L473.9 786.7L475.9 788.2L477.9 789.7L479.9 791.2L481.9 792.7L483.9 794.2L485.9 795.6L487.9 797.1L489.9 798.5L491.9 799.9L493.9 801.3L495.9 802.6L497.9 804.0L499.9 805.3L501.9 806.6L503.9 807.9L505.9 809.2L507.9 810.4L509.9 811.7L511.9 812.9L513.9 814.1L515.9 815.3L517.9 816.5L519.9 817.6L521.9 818.7L523.9 819.8L525.9 820.9L527.9 822.0L529.9 823.0L531.9 824.0L533.9 825.0L535.9 826.0L537.9 826.9L539.9 827.9L541.9 828.8L543.9 829.7L545.9 830.5L547.9 831.4L549.9 832.2L551.9 833.0L553.9 833.7L555.9 834.5L557.9 835.2L559.9 835.9L561.9 836.5L563.9 837.2L565.9 837.8L567.9 838.4L569.9 838.9L571.9 839.5L573.9 840.0L575.9 840.5L577.9 840.9L579.9 841.3L581.9 841.7L583.9 842.1L585.9 842.4L587.9 842.7L589.9 843.0L591.9 843.3L593.9 843.5L595.9 843.7L597.9 843.9L599.9 844.0L601.9 844.1L603.9 844.2L605.9 844.2" fill="none" stroke="#3b6db5" stroke-width="4.2" stroke-dasharray="15.05 6.45"/>
<clipPath id="cg"><path d="M67.4 193.9L69.4 194.0L71.4 194.0L73.4 194.1L75.4 194.2L77.4 194.3L79.4 194.4L81.4 194.4L83.4 194.6L85.4 194.7L87.4 194.8L89.4 194.9L91.4 195.1L93.4 195.3L95.3 195.5L97.3 195.7L99.3 195.9L101.3 196.1L103.3 196.4L105.3 196.7L107.3 197.0L109.3 197.3L111.3 197.7L113.3 198.1L115.3 198.5L117.3 199.0L119.3 199.5L121.3 199.9L123.3 200.4L125.3 200.9L127.3 201.4L129.3 201.9L131.3 202.4L133.3 202.9L135.3 203.4L137.3 203.9L139.3 204.3L141.3 204.8L143.3 205.2L145.3 205.6L147.3 205.9L149.2 206.3L151.2 206.6L153.2 207.0L155.2 207.3L157.2 207.6L159.2 207.9L161.2 208.2L163.2 208.5L165.2 208.8L167.2 209.1L169.2 209.4L171.2 209.7L173.2 210.0L175.2 210.3L177.2 210.7L179.2 211.0L181.2 211.3L183.2 211.7L185.2 212.0L187.2 212.4L189.2 212.8L191.2 213.2L193.2 213.7L195.2 214.1L197.2 214.6L199.2 215.1L201.2 215.6L203.1 216.2L205.1 216.8L207.1 217.4L209.1 218.0L211.1 218.6L213.1 219.3L215.1 220.0L217.1 220.6L219.1 221.3L221.1 222.0L223.1 222.7L225.1 223.4L227.1 224.1L229.1 224.8L231.1 225.5L233.1 226.3L235.1 227.0L237.1 227.7L239.1 228.3L241.1 229.0L243.1 229.7L245.1 230.4L247.1 231.0L249.1 231.6L251.1 232.2L253.1 232.8L255.1 233.4L257.0 233.9L259.0 234.4L261.0 234.9L263.0 235.4L265.0 235.8L267.0 236.2L269.0 236.6L271.0 236.9L273.0 237.2L275.0 237.4L277.0 237.6L279.0 237.8L281.0 237.9L283.0 238.0L285.0 238.0L287.0 238.0L289.0 237.9L291.0 237.8L293.0 237.6L295.0 237.4L297.0 237.1L299.0 236.7L301.0 236.3L303.0 235.8L305.0 235.3L307.0 234.8L309.0 234.2L310.9 233.5L312.9 232.8L314.9 232.1L316.9 231.3L318.9 230.5L320.9 229.6L322.9 228.7L324.9 227.8L326.9 226.8L328.9 225.7L330.9 224.7L332.9 223.6L334.9 222.5L336.9 221.3L338.9 220.1L340.9 218.9L342.9 217.6L344.9 216.3L346.9 215.0L348.9 213.7L350.9 212.3L352.9 210.9L354.9 209.6L356.9 208.3L358.9 207.0L360.9 205.9L362.9 204.9L364.8 204.0L366.8 203.3L368.8 202.7L370.8 202.5L372.8 202.4L374.8 202.6L376.8 203.1L378.8 203.9L380.8 204.9L382.8 206.1L384.8 207.7L386.8 209.5L388.8 211.6L390.8 214.0L392.8 216.7L394.8 219.7L396.8 223.0L398.8 226.7L400.8 230.8L402.8 235.2L404.8 239.8L406.8 244.7L408.8 249.7L410.8 254.8L412.8 260.1L414.8 265.4L416.8 270.8L418.7 276.3L420.7 281.7L422.7 287.2L424.7 292.6L426.7 297.9L428.7 303.1L430.7 308.3L432.7 313.3L434.7 318.2L436.7 323.0L438.7 327.8L440.7 332.5L442.7 337.1L444.7 341.6L446.7 346.1L448.7 350.6L450.7 355.0L452.7 359.4L454.7 363.8L456.7 368.2L458.7 372.6L460.7 376.9L462.7 381.2L464.7 385.5L466.7 389.7L468.7 393.9L470.7 397.9L472.6 402.0L474.6 405.9L476.6 409.7L478.6 413.5L480.6 417.1L482.6 420.6L484.6 424.0L486.6 427.3L488.6 430.5L490.6 433.5L492.6 436.4L494.6 439.2L496.6 442.0L498.6 444.6L500.6 447.1L502.6 449.6L504.6 452.0L506.6 454.3L508.6 456.5L510.6 458.7L512.6 460.8L514.6 462.9L516.6 464.9L518.6 466.9L520.6 468.8L522.6 470.7L524.6 472.6L526.5 474.4L528.5 476.2L530.5 478.0L532.5 479.7L534.5 481.4L536.5 483.0L538.5 484.7L540.5 486.2L542.5 487.8L544.5 489.3L546.5 490.8L548.5 492.2L550.5 493.6L552.5 495.0L554.5 496.3L556.5 497.6L558.5 498.9L560.5 500.1L562.5 501.3L564.5 502.4L566.5 503.6L568.5 504.6L570.5 505.7L572.5 506.7L574.5 507.6L576.5 508.6L578.5 509.5L580.4 510.3L582.4 511.1L584.4 511.9L586.4 512.6L588.4 513.4L590.4 514.0L592.4 514.6L594.4 515.2L596.4 515.8L598.4 516.3L600.4 516.8L602.4 517.2L604.4 517.6L606.4 518.0L606.4 534.0L604.4 533.7L602.4 533.5L600.4 533.3L598.4 533.1L596.4 532.9L594.4 532.7L592.4 532.5L590.4 532.2L588.4 531.9L586.4 531.6L584.4 531.2L582.4 530.8L580.4 530.4L578.5 530.0L576.5 529.5L574.5 529.1L572.5 528.6L570.5 528.0L568.5 527.5L566.5 526.9L564.5 526.3L562.5 525.7L560.5 525.0L558.5 524.3L556.5 523.7L554.5 523.1L552.5 522.4L550.5 521.7L548.5 520.9L546.5 520.2L544.5 519.4L542.5 518.5L540.5 517.7L538.5 516.8L536.5 515.9L534.5 514.9L532.5 514.0L530.5 513.0L528.5 512.0L526.5 510.9L524.6 509.9L522.6 508.8L520.6 507.6L518.6 506.5L516.6 505.3L514.6 504.1L512.6 502.9L510.6 501.7L508.6 500.4L506.6 499.1L504.6 497.8L502.6 496.5L500.6 495.2L498.6 493.8L496.6 492.4L494.6 491.0L492.6 489.6L490.6 488.1L488.6 486.7L486.6 485.2L484.6 483.7L482.6 482.3L480.6 480.8L478.6 479.2L476.6 477.7L474.6 476.1L472.6 474.5L470.7 472.9L468.7 471.3L466.7 469.7L464.7 468.0L462.7 466.4L460.7 464.7L458.7 463.0L456.7 461.3L454.7 459.5L452.7 457.8L450.7 456.0L448.7 454.2L446.7 452.4L444.7 450.6L442.7 448.7L440.7 446.9L438.7 445.0L436.7 443.1L434.7 441.2L432.7 439.3L430.7 437.3L428.7 435.4L426.7 433.4L424.7 431.4L422.7 429.4L420.7 427.4L418.7 425.4L416.8 423.4L414.8 421.3L412.8 419.2L410.8 417.2L408.8 415.1L406.8 413.0L404.8 410.9L402.8 408.7L400.8 406.6L398.8 404.5L396.8 402.3L394.8 400.2L392.8 398.0L390.8 395.9L388.8 393.7L386.8 391.5L384.8 389.3L382.8 387.2L380.8 385.0L378.8 382.8L376.8 380.6L374.8 378.4L372.8 376.2L370.8 374.0L368.8 371.9L366.8 369.7L364.8 367.5L362.9 365.3L360.9 363.1L358.9 361.0L356.9 358.8L354.9 356.7L352.9 354.5L350.9 352.4L348.9 350.2L346.9 348.1L344.9 346.0L342.9 343.9L340.9 341.8L338.9 339.8L336.9 337.7L334.9 335.7L332.9 333.7L330.9 331.7L328.9 329.7L326.9 327.7L324.9 325.8L322.9 323.9L320.9 322.0L318.9 320.1L316.9 318.2L314.9 316.4L312.9 314.6L310.9 312.8L309.0 311.1L307.0 309.3L305.0 307.6L303.0 306.0L301.0 304.3L299.0 302.7L297.0 301.0L295.0 299.5L293.0 297.9L291.0 296.3L289.0 294.8L287.0 293.3L285.0 291.7L283.0 290.2L281.0 288.8L279.0 287.3L277.0 285.8L275.0 284.4L273.0 283.0L271.0 281.5L269.0 280.1L267.0 278.7L265.0 277.3L263.0 275.9L261.0 274.5L259.0 273.1L257.0 271.7L255.1 270.3L253.1 269.0L251.1 267.6L249.1 266.2L247.1 264.9L245.1 263.5L243.1 262.2L241.1 260.9L239.1 259.5L237.1 258.2L235.1 256.9L233.1 255.6L231.1 254.4L229.1 253.1L227.1 251.9L225.1 250.6L223.1 249.4L221.1 248.2L219.1 247.0L217.1 245.8L215.1 244.7L213.1 243.5L211.1 242.4L209.1 241.3L207.1 240.2L205.1 239.2L203.1 238.1L201.2 237.1L199.2 236.1L197.2 235.1L195.2 234.3L193.2 233.5L191.2 232.7L189.2 232.0L187.2 231.2L185.2 230.5L183.2 229.7L181.2 229.0L179.2 228.3L177.2 227.5L175.2 226.8L173.2 226.1L171.2 225.4L169.2 224.7L167.2 224.1L165.2 223.4L163.2 222.7L161.2 222.1L159.2 221.4L157.2 220.8L155.2 220.1L153.2 219.5L151.2 218.9L149.2 218.3L147.3 217.7L145.3 217.1L143.3 216.5L141.3 215.9L139.3 215.3L137.3 214.8L135.3 214.2L133.3 213.7L131.3 213.1L129.3 212.6L127.3 212.1L125.3 211.6L123.3 211.2L121.3 210.7L119.3 210.3L117.3 209.8L115.3 209.3L113.3 208.9L111.3 208.4L109.3 208.0L107.3 207.5L105.3 207.0L103.3 206.6L101.3 206.2L99.3 205.7L97.3 205.3L95.3 204.9L93.4 204.5L91.4 204.1L89.4 203.8L87.4 203.5L85.4 203.3L83.4 203.0L81.4 202.8L79.4 202.6L77.4 202.4L75.4 202.2L73.4 202.1L71.4 202.0L69.4 201.9L67.4 201.9Z"/></clipPath>
<path d="M67.4 193.9L69.4 194.0L71.4 194.0L73.4 194.1L75.4 194.2L77.4 194.3L79.4 194.4L81.4 194.4L83.4 194.6L85.4 194.7L87.4 194.8L89.4 194.9L91.4 195.1L93.4 195.3L95.3 195.5L97.3 195.7L99.3 195.9L101.3 196.1L103.3 196.4L105.3 196.7L107.3 197.0L109.3 197.3L111.3 197.7L113.3 198.1L115.3 198.5L117.3 199.0L119.3 199.5L121.3 199.9L123.3 200.4L125.3 200.9L127.3 201.4L129.3 201.9L131.3 202.4L133.3 202.9L135.3 203.4L137.3 203.9L139.3 204.3L141.3 204.8L143.3 205.2L145.3 205.6L147.3 205.9L149.2 206.3L151.2 206.6L153.2 207.0L155.2 207.3L157.2 207.6L159.2 207.9L161.2 208.2L163.2 208.5L165.2 208.8L167.2 209.1L169.2 209.4L171.2 209.7L173.2 210.0L175.2 210.3L177.2 210.7L179.2 211.0L181.2 211.3L183.2 211.7L185.2 212.0L187.2 212.4L189.2 212.8L191.2 213.2L193.2 213.7L195.2 214.1L197.2 214.6L199.2 215.1L201.2 215.6L203.1 216.2L205.1 216.8L207.1 217.4L209.1 218.0L211.1 218.6L213.1 219.3L215.1 220.0L217.1 220.6L219.1 221.3L221.1 222.0L223.1 222.7L225.1 223.4L227.1 224.1L229.1 224.8L231.1 225.5L233.1 226.3L235.1 227.0L237.1 227.7L239.1 228.3L241.1 229.0L243.1 229.7L245.1 230.4L247.1 231.0L249.1 231.6L251.1 232.2L253.1 232.8L255.1 233.4L257.0 233.9L259.0 234.4L261.0 234.9L263.0 235.4L265.0 235.8L267.0 236.2L269.0 236.6L271.0 236.9L273.0 237.2L275.0 237.4L277.0 237.6L279.0 237.8L281.0 237.9L283.0 238.0L285.0 238.0L287.0 238.0L289.0 237.9L291.0 237.8L293.0 237.6L295.0 237.4L297.0 237.1L299.0 236.7L301.0 236.3L303.0 235.8L305.0 235.3L307.0 234.8L309.0 234.2L310.9 233.5L312.9 232.8L314.9 232.1L316.9 231.3L318.9 230.5L320.9 229.6L322.9 228.7L324.9 227.8L326.9 226.8L328.9 225.7L330.9 224.7L332.9 223.6L334.9 222.5L336.9 221.3L338.9 220.1L340.9 218.9L342.9 217.6L344.9 216.3L346.9 215.0L348.9 213.7L350.9 212.3L352.9 210.9L354.9 209.6L356.9 208.3L358.9 207.0L360.9 205.9L362.9 204.9L364.8 204.0L366.8 203.3L368.8 202.7L370.8 202.5L372.8 202.4L374.8 202.6L376.8 203.1L378.8 203.9L380.8 204.9L382.8 206.1L384.8 207.7L386.8 209.5L388.8 211.6L390.8 214.0L392.8 216.7L394.8 219.7L396.8 223.0L398.8 226.7L400.8 230.8L402.8 235.2L404.8 239.8L406.8 244.7L408.8 249.7L410.8 254.8L412.8 260.1L414.8 265.4L416.8 270.8L418.7 276.3L420.7 281.7L422.7 287.2L424.7 292.6L426.7 297.9L428.7 303.1L430.7 308.3L432.7 313.3L434.7 318.2L436.7 323.0L438.7 327.8L440.7 332.5L442.7 337.1L444.7 341.6L446.7 346.1L448.7 350.6L450.7 355.0L452.7 359.4L454.7 363.8L456.7 368.2L458.7 372.6L460.7 376.9L462.7 381.2L464.7 385.5L466.7 389.7L468.7 393.9L470.7 397.9L472.6 402.0L474.6 405.9L476.6 409.7L478.6 413.5L480.6 417.1L482.6 420.6L484.6 424.0L486.6 427.3L488.6 430.5L490.6 433.5L492.6 436.4L494.6 439.2L496.6 442.0L498.6 444.6L500.6 447.1L502.6 449.6L504.6 452.0L506.6 454.3L508.6 456.5L510.6 458.7L512.6 460.8L514.6 462.9L516.6 464.9L518.6 466.9L520.6 468.8L522.6 470.7L524.6 472.6L526.5 474.4L528.5 476.2L530.5 478.0L532.5 479.7L534.5 481.4L536.5 483.0L538.5 484.7L540.5 486.2L542.5 487.8L544.5 489.3L546.5 490.8L548.5 492.2L550.5 493.6L552.5 495.0L554.5 496.3L556.5 497.6L558.5 498.9L560.5 500.1L562.5 501.3L564.5 502.4L566.5 503.6L568.5 504.6L570.5 505.7L572.5 506.7L574.5 507.6L576.5 508.6L578.5 509.5L580.4 510.3L582.4 511.1L584.4 511.9L586.4 512.6L588.4 513.4L590.4 514.0L592.4 514.6L594.4 515.2L596.4 515.8L598.4 516.3L600.4 516.8L602.4 517.2L604.4 517.6L606.4 518.0L606.4 534.0L604.4 533.7L602.4 533.5L600.4 533.3L598.4 533.1L596.4 532.9L594.4 532.7L592.4 532.5L590.4 532.2L588.4 531.9L586.4 531.6L584.4 531.2L582.4 530.8L580.4 530.4L578.5 530.0L576.5 529.5L574.5 529.1L572.5 528.6L570.5 528.0L568.5 527.5L566.5 526.9L564.5 526.3L562.5 525.7L560.5 525.0L558.5 524.3L556.5 523.7L554.5 523.1L552.5 522.4L550.5 521.7L548.5 520.9L546.5 520.2L544.5 519.4L542.5 518.5L540.5 517.7L538.5 516.8L536.5 515.9L534.5 514.9L532.5 514.0L530.5 513.0L528.5 512.0L526.5 510.9L524.6 509.9L522.6 508.8L520.6 507.6L518.6 506.5L516.6 505.3L514.6 504.1L512.6 502.9L510.6 501.7L508.6 500.4L506.6 499.1L504.6 497.8L502.6 496.5L500.6 495.2L498.6 493.8L496.6 492.4L494.6 491.0L492.6 489.6L490.6 488.1L488.6 486.7L486.6 485.2L484.6 483.7L482.6 482.3L480.6 480.8L478.6 479.2L476.6 477.7L474.6 476.1L472.6 474.5L470.7 472.9L468.7 471.3L466.7 469.7L464.7 468.0L462.7 466.4L460.7 464.7L458.7 463.0L456.7 461.3L454.7 459.5L452.7 457.8L450.7 456.0L448.7 454.2L446.7 452.4L444.7 450.6L442.7 448.7L440.7 446.9L438.7 445.0L436.7 443.1L434.7 441.2L432.7 439.3L430.7 437.3L428.7 435.4L426.7 433.4L424.7 431.4L422.7 429.4L420.7 427.4L418.7 425.4L416.8 423.4L414.8 421.3L412.8 419.2L410.8 417.2L408.8 415.1L406.8 413.0L404.8 410.9L402.8 408.7L400.8 406.6L398.8 404.5L396.8 402.3L394.8 400.2L392.8 398.0L390.8 395.9L388.8 393.7L386.8 391.5L384.8 389.3L382.8 387.2L380.8 385.0L378.8 382.8L376.8 380.6L374.8 378.4L372.8 376.2L370.8 374.0L368.8 371.9L366.8 369.7L364.8 367.5L362.9 365.3L360.9 363.1L358.9 361.0L356.9 358.8L354.9 356.7L352.9 354.5L350.9 352.4L348.9 350.2L346.9 348.1L344.9 346.0L342.9 343.9L340.9 341.8L338.9 339.8L336.9 337.7L334.9 335.7L332.9 333.7L330.9 331.7L328.9 329.7L326.9 327.7L324.9 325.8L322.9 323.9L320.9 322.0L318.9 320.1L316.9 318.2L314.9 316.4L312.9 314.6L310.9 312.8L309.0 311.1L307.0 309.3L305.0 307.6L303.0 306.0L301.0 304.3L299.0 302.7L297.0 301.0L295.0 299.5L293.0 297.9L291.0 296.3L289.0 294.8L287.0 293.3L285.0 291.7L283.0 290.2L281.0 288.8L279.0 287.3L277.0 285.8L275.0 284.4L273.0 283.0L271.0 281.5L269.0 280.1L267.0 278.7L265.0 277.3L263.0 275.9L261.0 274.5L259.0 273.1L257.0 271.7L255.1 270.3L253.1 269.0L251.1 267.6L249.1 266.2L247.1 264.9L245.1 263.5L243.1 262.2L241.1 260.9L239.1 259.5L237.1 258.2L235.1 256.9L233.1 255.6L231.1 254.4L229.1 253.1L227.1 251.9L225.1 250.6L223.1 249.4L221.1 248.2L219.1 247.0L217.1 245.8L215.1 244.7L213.1 243.5L211.1 242.4L209.1 241.3L207.1 240.2L205.1 239.2L203.1 238.1L201.2 237.1L199.2 236.1L197.2 235.1L195.2 234.3L193.2 233.5L191.2 232.7L189.2 232.0L187.2 231.2L185.2 230.5L183.2 229.7L181.2 229.0L179.2 228.3L177.2 227.5L175.2 226.8L173.2 226.1L171.2 225.4L169.2 224.7L167.2 224.1L165.2 223.4L163.2 222.7L161.2 222.1L159.2 221.4L157.2 220.8L155.2 220.1L153.2 219.5L151.2 218.9L149.2 218.3L147.3 217.7L145.3 217.1L143.3 216.5L141.3 215.9L139.3 215.3L137.3 214.8L135.3 214.2L133.3 213.7L131.3 213.1L129.3 212.6L127.3 212.1L125.3 211.6L123.3 211.2L121.3 210.7L119.3 210.3L117.3 209.8L115.3 209.3L113.3 208.9L111.3 208.4L109.3 208.0L107.3 207.5L105.3 207.0L103.3 206.6L101.3 206.2L99.3 205.7L97.3 205.3L95.3 204.9L93.4 204.5L91.4 204.1L89.4 203.8L87.4 203.5L85.4 203.3L83.4 203.0L81.4 202.8L79.4 202.6L77.4 202.4L75.4 202.2L73.4 202.1L71.4 202.0L69.4 201.9L67.4 201.9Z" fill="#d3dbbe"/>
<path d="M67.4 201.9L69.4 201.9L71.4 202.0L73.4 202.1L75.4 202.2L77.4 202.4L79.4 202.6L81.4 202.8L83.4 203.0L85.4 203.3L87.4 203.5L89.4 203.8L91.4 204.1L93.4 204.4L95.3 204.8L97.3 205.2L99.3 205.5L101.3 205.9L103.3 206.3L105.3 206.7L107.3 207.2L109.3 207.6L111.3 208.1L113.3 208.5L115.3 209.0L117.3 209.5L119.3 210.0L121.3 210.5L123.3 211.0L125.3 211.5L127.3 212.0L129.3 212.6L131.3 213.1L133.3 213.7L135.3 214.2L137.3 214.8L139.3 215.3L141.3 215.9L143.3 216.5L145.3 217.1L147.3 217.7L149.2 218.3L151.2 218.9L153.2 219.5L155.2 220.1L157.2 220.8L159.2 221.4L161.2 222.1L163.2 222.7L165.2 223.4L167.2 224.1L169.2 224.7L171.2 225.4L173.2 226.1L175.2 226.8L177.2 227.5L179.2 228.3L181.2 229.0L183.2 229.7L185.2 230.5L187.2 231.2L189.2 232.0L191.2 232.7L193.2 233.5L195.2 234.3L197.2 235.1L199.2 235.9L201.2 236.7L203.1 237.5L205.1 238.3L207.1 239.1L209.1 239.9L211.1 240.8L213.1 241.6L215.1 242.3L217.1 243.1L219.1 243.8L221.1 244.5L223.1 245.1L225.1 245.7L227.1 246.1L229.1 246.6L231.1 246.9L233.1 247.2L235.1 247.3L237.1 247.4L239.1 247.4L241.1 247.2L243.1 246.9L245.1 246.5L247.1 245.9L249.1 245.2L251.1 244.4L253.1 243.4L255.1 242.3L257.0 241.0L259.0 239.6L261.0 238.0L263.0 236.4L265.0 234.6L267.0 232.7L269.0 230.7L271.0 228.5L273.0 226.3L275.0 224.0L277.0 221.6L279.0 219.1L281.0 216.6L283.0 214.1L285.0 211.6L287.0 209.1L289.0 206.7L291.0 204.4L293.0 202.1L295.0 200.0L297.0 198.0L299.0 196.2L301.0 194.6L303.0 193.2L305.0 192.0L307.0 191.1L309.0 190.4L310.9 190.0L312.9 189.9L314.9 190.1L316.9 190.6L318.9 191.5L320.9 192.7L322.9 194.3L324.9 196.3L326.9 198.7L328.9 201.4L330.9 204.4L332.9 207.8L334.9 211.6L336.9 215.6L338.9 220.0L340.9 224.7L342.9 229.6L344.9 234.9L346.9 240.3L348.9 245.9L350.9 251.7L352.9 257.7L354.9 263.7L356.9 269.9L358.9 276.1L360.9 282.4L362.9 288.7L364.8 294.9L366.8 301.2L368.8 307.4L370.8 313.6L372.8 319.7L374.8 325.7L376.8 331.6L378.8 337.4L380.8 343.1L382.8 348.5L384.8 353.9L386.8 359.0L388.8 364.0L390.8 368.8L392.8 373.5L394.8 378.0L396.8 382.3L398.8 386.5L400.8 390.6L402.8 394.5L404.8 398.2L406.8 401.8L408.8 405.3L410.8 408.6L412.8 411.8L414.8 414.9L416.8 417.8L418.7 420.7L420.7 423.4L422.7 426.0L424.7 428.5L426.7 430.9L428.7 433.2L430.7 435.5L432.7 437.7L434.7 439.8L436.7 441.8L438.7 443.9L440.7 445.8L442.7 447.8L444.7 449.7L446.7 451.6L448.7 453.5L450.7 455.3L452.7 457.2L454.7 459.0L456.7 460.8L458.7 462.5L460.7 464.3L462.7 466.0L464.7 467.7L466.7 469.4L468.7 471.1L470.7 472.7L472.6 474.3L474.6 475.9L476.6 477.5L478.6 479.1L480.6 480.7L482.6 482.2L484.6 483.7L486.6 485.2L488.6 486.7L490.6 488.1L492.6 489.6L494.6 491.0L496.6 492.4L498.6 493.8L500.6 495.2L502.6 496.5L504.6 497.8L506.6 499.1L508.6 500.4L510.6 501.7L512.6 502.9L514.6 504.1L516.6 505.3L518.6 506.5L520.6 507.6L522.6 508.8L524.6 509.9L526.5 510.9L528.5 512.0L530.5 513.0L532.5 514.0L534.5 514.9L536.5 515.9L538.5 516.8L540.5 517.7L542.5 518.5L544.5 519.4L546.5 520.2L548.5 520.9L550.5 521.7L552.5 522.4L554.5 523.1L556.5 523.7L558.5 524.3L560.5 524.9L562.5 525.5L564.5 526.1L566.5 526.6L568.5 527.1L570.5 527.6L572.5 528.1L574.5 528.6L576.5 529.0L578.5 529.4L580.4 529.8L582.4 530.2L584.4 530.6L586.4 530.9L588.4 531.3L590.4 531.6L592.4 532.0L594.4 532.3L596.4 532.6L598.4 532.9L600.4 533.2L602.4 533.5L604.4 533.7L606.4 534.0L606.4 534.0L604.4 533.7L602.4 533.5L600.4 533.3L598.4 533.1L596.4 532.9L594.4 532.7L592.4 532.5L590.4 532.2L588.4 531.9L586.4 531.6L584.4 531.2L582.4 530.8L580.4 530.4L578.5 530.0L576.5 529.5L574.5 529.1L572.5 528.6L570.5 528.0L568.5 527.5L566.5 526.9L564.5 526.3L562.5 525.7L560.5 525.0L558.5 524.3L556.5 523.7L554.5 523.1L552.5 522.4L550.5 521.7L548.5 520.9L546.5 520.2L544.5 519.4L542.5 518.5L540.5 517.7L538.5 516.8L536.5 515.9L534.5 514.9L532.5 514.0L530.5 513.0L528.5 512.0L526.5 510.9L524.6 509.9L522.6 508.8L520.6 507.6L518.6 506.5L516.6 505.3L514.6 504.1L512.6 502.9L510.6 501.7L508.6 500.4L506.6 499.1L504.6 497.8L502.6 496.5L500.6 495.2L498.6 493.8L496.6 492.4L494.6 491.0L492.6 489.6L490.6 488.1L488.6 486.7L486.6 485.2L484.6 483.7L482.6 482.3L480.6 480.8L478.6 479.2L476.6 477.7L474.6 476.1L472.6 474.5L470.7 472.9L468.7 471.3L466.7 469.7L464.7 468.0L462.7 466.4L460.7 464.7L458.7 463.0L456.7 461.3L454.7 459.5L452.7 457.8L450.7 456.0L448.7 454.2L446.7 452.4L444.7 450.6L442.7 448.7L440.7 446.9L438.7 445.0L436.7 443.1L434.7 441.2L432.7 439.3L430.7 437.3L428.7 435.4L426.7 433.4L424.7 431.4L422.7 429.4L420.7 427.4L418.7 425.4L416.8 423.4L414.8 421.3L412.8 419.2L410.8 417.2L408.8 415.1L406.8 413.0L404.8 410.9L402.8 408.7L400.8 406.6L398.8 404.5L396.8 402.3L394.8 400.2L392.8 398.0L390.8 395.9L388.8 393.7L386.8 391.5L384.8 389.3L382.8 387.2L380.8 385.0L378.8 382.8L376.8 380.6L374.8 378.4L372.8 376.2L370.8 374.0L368.8 371.9L366.8 369.7L364.8 367.5L362.9 365.3L360.9 363.1L358.9 361.0L356.9 358.8L354.9 356.7L352.9 354.5L350.9 352.4L348.9 350.2L346.9 348.1L344.9 346.0L342.9 343.9L340.9 341.8L338.9 339.8L336.9 337.7L334.9 335.7L332.9 333.7L330.9 331.7L328.9 329.7L326.9 327.7L324.9 325.8L322.9 323.9L320.9 322.0L318.9 320.1L316.9 318.2L314.9 316.4L312.9 314.6L310.9 312.8L309.0 311.1L307.0 309.3L305.0 307.6L303.0 306.0L301.0 304.3L299.0 302.7L297.0 301.0L295.0 299.5L293.0 297.9L291.0 296.3L289.0 294.8L287.0 293.3L285.0 291.7L283.0 290.2L281.0 288.8L279.0 287.3L277.0 285.8L275.0 284.4L273.0 283.0L271.0 281.5L269.0 280.1L267.0 278.7L265.0 277.3L263.0 275.9L261.0 274.5L259.0 273.1L257.0 271.7L255.1 270.3L253.1 269.0L251.1 267.6L249.1 266.2L247.1 264.9L245.1 263.5L243.1 262.2L241.1 260.9L239.1 259.5L237.1 258.2L235.1 256.9L233.1 255.6L231.1 254.4L229.1 253.1L227.1 251.9L225.1 250.6L223.1 249.4L221.1 248.2L219.1 247.0L217.1 245.8L215.1 244.7L213.1 243.5L211.1 242.4L209.1 241.3L207.1 240.2L205.1 239.2L203.1 238.1L201.2 237.1L199.2 236.1L197.2 235.1L195.2 234.3L193.2 233.5L191.2 232.7L189.2 232.0L187.2 231.2L185.2 230.5L183.2 229.7L181.2 229.0L179.2 228.3L177.2 227.5L175.2 226.8L173.2 226.1L171.2 225.4L169.2 224.7L167.2 224.1L165.2 223.4L163.2 222.7L161.2 222.1L159.2 221.4L157.2 220.8L155.2 220.1L153.2 219.5L151.2 218.9L149.2 218.3L147.3 217.7L145.3 217.1L143.3 216.5L141.3 215.9L139.3 215.3L137.3 214.8L135.3 214.2L133.3 213.7L131.3 213.1L129.3 212.6L127.3 212.1L125.3 211.6L123.3 211.2L121.3 210.7L119.3 210.3L117.3 209.8L115.3 209.3L113.3 208.9L111.3 208.4L109.3 208.0L107.3 207.5L105.3 207.0L103.3 206.6L101.3 206.2L99.3 205.7L97.3 205.3L95.3 204.9L93.4 204.5L91.4 204.1L89.4 203.8L87.4 203.5L85.4 203.3L83.4 203.0L81.4 202.8L79.4 202.6L77.4 202.4L75.4 202.2L73.4 202.1L71.4 202.0L69.4 201.9L67.4 201.9Z" fill="#bbc2e2"/>
<path d="M67.4 201.9L69.4 201.9L71.4 202.0L73.4 202.1L75.4 202.2L77.4 202.4L79.4 202.6L81.4 202.8L83.4 203.0L85.4 203.3L87.4 203.5L89.4 203.8L91.4 204.1L93.4 204.4L95.3 204.8L97.3 205.2L99.3 205.5L101.3 205.9L103.3 206.3L105.3 206.7L107.3 207.2L109.3 207.6L111.3 208.1L113.3 208.5L115.3 209.0L117.3 209.5L119.3 210.0L121.3 210.5L123.3 211.0L125.3 211.5L127.3 212.0L129.3 212.6L131.3 213.1L133.3 213.7L135.3 214.2L137.3 214.8L139.3 215.3L141.3 215.9L143.3 216.5L145.3 217.1L147.3 217.7L149.2 218.3L151.2 218.9L153.2 219.5L155.2 220.1L157.2 220.8L159.2 221.4L161.2 222.1L163.2 222.7L165.2 223.4L167.2 224.1L169.2 224.7L171.2 225.4L173.2 226.1L175.2 226.8L177.2 227.5L179.2 228.3L181.2 229.0L183.2 229.7L185.2 230.5L187.2 231.2L189.2 232.0L191.2 232.7L193.2 233.5L195.2 234.3L197.2 235.1L199.2 235.9L201.2 236.7L203.1 237.5L205.1 238.3L207.1 239.1L209.1 239.9L211.1 240.8L213.1 241.6L215.1 242.3L217.1 243.1L219.1 243.8L221.1 244.5L223.1 245.1L225.1 245.7L227.1 246.1L229.1 246.6L231.1 246.9L233.1 247.2L235.1 247.3L237.1 247.4L239.1 247.4L241.1 247.2L243.1 246.9L245.1 246.5L247.1 245.9L249.1 245.2L251.1 244.4L253.1 243.4L255.1 242.3L257.0 241.0L259.0 239.6L261.0 238.0L263.0 236.4L265.0 234.6L267.0 232.7L269.0 230.7L271.0 228.5L273.0 226.3L275.0 224.0L277.0 221.6L279.0 219.1L281.0 216.6L283.0 214.1L285.0 211.6L287.0 209.1L289.0 206.7L291.0 204.4L293.0 202.1L295.0 200.0L297.0 198.0L299.0 196.2L301.0 194.6L303.0 193.2L305.0 192.0L307.0 191.1L309.0 190.4L310.9 190.0L312.9 189.9L314.9 190.1L316.9 190.6L318.9 191.5L320.9 192.7L322.9 194.3L324.9 196.3L326.9 198.7L328.9 201.4L330.9 204.4L332.9 207.8L334.9 211.6L336.9 215.6L338.9 220.0L340.9 224.7L342.9 229.6L344.9 234.9L346.9 240.3L348.9 245.9L350.9 251.7L352.9 257.7L354.9 263.7L356.9 269.9L358.9 276.1L360.9 282.4L362.9 288.7L364.8 294.9L366.8 301.2L368.8 307.4L370.8 313.6L372.8 319.7L374.8 325.7L376.8 331.6L378.8 337.4L380.8 343.1L382.8 348.5L384.8 353.9L386.8 359.0L388.8 364.0L390.8 368.8L392.8 373.5L394.8 378.0L396.8 382.3L398.8 386.5L400.8 390.6L402.8 394.5L404.8 398.2L406.8 401.8L408.8 405.3L410.8 408.6L412.8 411.8L414.8 414.9L416.8 417.8L418.7 420.7L420.7 423.4L422.7 426.0L424.7 428.5L426.7 430.9L428.7 433.2L430.7 435.5L432.7 437.7L434.7 439.8L436.7 441.8L438.7 443.9L440.7 445.8L442.7 447.8L444.7 449.7L446.7 451.6L448.7 453.5L450.7 455.3L452.7 457.2L454.7 459.0L456.7 460.8L458.7 462.5L460.7 464.3L462.7 466.0L464.7 467.7L466.7 469.4L468.7 471.1L470.7 472.7L472.6 474.3L474.6 475.9L476.6 477.5L478.6 479.1L480.6 480.7L482.6 482.2L484.6 483.7L486.6 485.2L488.6 486.7L490.6 488.1L492.6 489.6L494.6 491.0L496.6 492.4L498.6 493.8L500.6 495.2L502.6 496.5L504.6 497.8L506.6 499.1L508.6 500.4L510.6 501.7L512.6 502.9L514.6 504.1L516.6 505.3L518.6 506.5L520.6 507.6L522.6 508.8L524.6 509.9L526.5 510.9L528.5 512.0L530.5 513.0L532.5 514.0L534.5 514.9L536.5 515.9L538.5 516.8L540.5 517.7L542.5 518.5L544.5 519.4L546.5 520.2L548.5 520.9L550.5 521.7L552.5 522.4L554.5 523.1L556.5 523.7L558.5 524.3L560.5 524.9L562.5 525.5L564.5 526.1L566.5 526.6L568.5 527.1L570.5 527.6L572.5 528.1L574.5 528.6L576.5 529.0L578.5 529.4L580.4 529.8L582.4 530.2L584.4 530.6L586.4 530.9L588.4 531.3L590.4 531.6L592.4 532.0L594.4 532.3L596.4 532.6L598.4 532.9L600.4 533.2L602.4 533.5L604.4 533.7L606.4 534.0L606.4 534.0L604.4 533.7L602.4 533.5L600.4 533.3L598.4 533.1L596.4 532.9L594.4 532.7L592.4 532.5L590.4 532.2L588.4 531.9L586.4 531.6L584.4 531.2L582.4 530.8L580.4 530.4L578.5 530.0L576.5 529.5L574.5 529.1L572.5 528.6L570.5 528.0L568.5 527.5L566.5 526.9L564.5 526.3L562.5 525.7L560.5 525.0L558.5 524.3L556.5 523.7L554.5 523.1L552.5 522.4L550.5 521.7L548.5 520.9L546.5 520.2L544.5 519.4L542.5 518.5L540.5 517.7L538.5 516.8L536.5 515.9L534.5 514.9L532.5 514.0L530.5 513.0L528.5 512.0L526.5 510.9L524.6 509.9L522.6 508.8L520.6 507.6L518.6 506.5L516.6 505.3L514.6 504.1L512.6 502.9L510.6 501.7L508.6 500.4L506.6 499.1L504.6 497.8L502.6 496.5L500.6 495.2L498.6 493.8L496.6 492.4L494.6 491.0L492.6 489.6L490.6 488.1L488.6 486.7L486.6 485.2L484.6 483.7L482.6 482.3L480.6 480.8L478.6 479.2L476.6 477.7L474.6 476.1L472.6 474.5L470.7 472.9L468.7 471.3L466.7 469.7L464.7 468.0L462.7 466.4L460.7 464.7L458.7 463.0L456.7 461.3L454.7 459.5L452.7 457.8L450.7 456.0L448.7 454.2L446.7 452.4L444.7 450.6L442.7 448.7L440.7 446.9L438.7 445.0L436.7 443.1L434.7 441.2L432.7 439.3L430.7 437.3L428.7 435.4L426.7 433.4L424.7 431.4L422.7 429.4L420.7 427.4L418.7 425.4L416.8 423.4L414.8 421.3L412.8 419.2L410.8 417.2L408.8 415.1L406.8 413.0L404.8 410.9L402.8 408.7L400.8 406.6L398.8 404.5L396.8 402.3L394.8 400.2L392.8 398.0L390.8 395.9L388.8 393.7L386.8 391.5L384.8 389.3L382.8 387.2L380.8 385.0L378.8 382.8L376.8 380.6L374.8 378.4L372.8 376.2L370.8 374.0L368.8 371.9L366.8 369.7L364.8 367.5L362.9 365.3L360.9 363.1L358.9 361.0L356.9 358.8L354.9 356.7L352.9 354.5L350.9 352.4L348.9 350.2L346.9 348.1L344.9 346.0L342.9 343.9L340.9 341.8L338.9 339.8L336.9 337.7L334.9 335.7L332.9 333.7L330.9 331.7L328.9 329.7L326.9 327.7L324.9 325.8L322.9 323.9L320.9 322.0L318.9 320.1L316.9 318.2L314.9 316.4L312.9 314.6L310.9 312.8L309.0 311.1L307.0 309.3L305.0 307.6L303.0 306.0L301.0 304.3L299.0 302.7L297.0 301.0L295.0 299.5L293.0 297.9L291.0 296.3L289.0 294.8L287.0 293.3L285.0 291.7L283.0 290.2L281.0 288.8L279.0 287.3L277.0 285.8L275.0 284.4L273.0 283.0L271.0 281.5L269.0 280.1L267.0 278.7L265.0 277.3L263.0 275.9L261.0 274.5L259.0 273.1L257.0 271.7L255.1 270.3L253.1 269.0L251.1 267.6L249.1 266.2L247.1 264.9L245.1 263.5L243.1 262.2L241.1 260.9L239.1 259.5L237.1 258.2L235.1 256.9L233.1 255.6L231.1 254.4L229.1 253.1L227.1 251.9L225.1 250.6L223.1 249.4L221.1 248.2L219.1 247.0L217.1 245.8L215.1 244.7L213.1 243.5L211.1 242.4L209.1 241.3L207.1 240.2L205.1 239.2L203.1 238.1L201.2 237.1L199.2 236.1L197.2 235.1L195.2 234.3L193.2 233.5L191.2 232.7L189.2 232.0L187.2 231.2L185.2 230.5L183.2 229.7L181.2 229.0L179.2 228.3L177.2 227.5L175.2 226.8L173.2 226.1L171.2 225.4L169.2 224.7L167.2 224.1L165.2 223.4L163.2 222.7L161.2 222.1L159.2 221.4L157.2 220.8L155.2 220.1L153.2 219.5L151.2 218.9L149.2 218.3L147.3 217.7L145.3 217.1L143.3 216.5L141.3 215.9L139.3 215.3L137.3 214.8L135.3 214.2L133.3 213.7L131.3 213.1L129.3 212.6L127.3 212.1L125.3 211.6L123.3 211.2L121.3 210.7L119.3 210.3L117.3 209.8L115.3 209.3L113.3 208.9L111.3 208.4L109.3 208.0L107.3 207.5L105.3 207.0L103.3 206.6L101.3 206.2L99.3 205.7L97.3 205.3L95.3 204.9L93.4 204.5L91.4 204.1L89.4 203.8L87.4 203.5L85.4 203.3L83.4 203.0L81.4 202.8L79.4 202.6L77.4 202.4L75.4 202.2L73.4 202.1L71.4 202.0L69.4 201.9L67.4 201.9Z" fill="#9eb3b7" clip-path="url(#cg)"/>
<clipPath id="cb"><path d="M67.4 201.9L69.4 201.9L71.4 202.0L73.4 202.1L75.4 202.2L77.4 202.4L79.4 202.6L81.4 202.8L83.4 203.0L85.4 203.3L87.4 203.5L89.4 203.8L91.4 204.1L93.4 204.4L95.3 204.8L97.3 205.2L99.3 205.5L101.3 205.9L103.3 206.3L105.3 206.7L107.3 207.2L109.3 207.6L111.3 208.1L113.3 208.5L115.3 209.0L117.3 209.5L119.3 210.0L121.3 210.5L123.3 211.0L125.3 211.5L127.3 212.0L129.3 212.6L131.3 213.1L133.3 213.7L135.3 214.2L137.3 214.8L139.3 215.3L141.3 215.9L143.3 216.5L145.3 217.1L147.3 217.7L149.2 218.3L151.2 218.9L153.2 219.5L155.2 220.1L157.2 220.8L159.2 221.4L161.2 222.1L163.2 222.7L165.2 223.4L167.2 224.1L169.2 224.7L171.2 225.4L173.2 226.1L175.2 226.8L177.2 227.5L179.2 228.3L181.2 229.0L183.2 229.7L185.2 230.5L187.2 231.2L189.2 232.0L191.2 232.7L193.2 233.5L195.2 234.3L197.2 235.1L199.2 235.9L201.2 236.7L203.1 237.5L205.1 238.3L207.1 239.1L209.1 239.9L211.1 240.8L213.1 241.6L215.1 242.3L217.1 243.1L219.1 243.8L221.1 244.5L223.1 245.1L225.1 245.7L227.1 246.1L229.1 246.6L231.1 246.9L233.1 247.2L235.1 247.3L237.1 247.4L239.1 247.4L241.1 247.2L243.1 246.9L245.1 246.5L247.1 245.9L249.1 245.2L251.1 244.4L253.1 243.4L255.1 242.3L257.0 241.0L259.0 239.6L261.0 238.0L263.0 236.4L265.0 234.6L267.0 232.7L269.0 230.7L271.0 228.5L273.0 226.3L275.0 224.0L277.0 221.6L279.0 219.1L281.0 216.6L283.0 214.1L285.0 211.6L287.0 209.1L289.0 206.7L291.0 204.4L293.0 202.1L295.0 200.0L297.0 198.0L299.0 196.2L301.0 194.6L303.0 193.2L305.0 192.0L307.0 191.1L309.0 190.4L310.9 190.0L312.9 189.9L314.9 190.1L316.9 190.6L318.9 191.5L320.9 192.7L322.9 194.3L324.9 196.3L326.9 198.7L328.9 201.4L330.9 204.4L332.9 207.8L334.9 211.6L336.9 215.6L338.9 220.0L340.9 224.7L342.9 229.6L344.9 234.9L346.9 240.3L348.9 245.9L350.9 251.7L352.9 257.7L354.9 263.7L356.9 269.9L358.9 276.1L360.9 282.4L362.9 288.7L364.8 294.9L366.8 301.2L368.8 307.4L370.8 313.6L372.8 319.7L374.8 325.7L376.8 331.6L378.8 337.4L380.8 343.1L382.8 348.5L384.8 353.9L386.8 359.0L388.8 364.0L390.8 368.8L392.8 373.5L394.8 378.0L396.8 382.3L398.8 386.5L400.8 390.6L402.8 394.5L404.8 398.2L406.8 401.8L408.8 405.3L410.8 408.6L412.8 411.8L414.8 414.9L416.8 417.8L418.7 420.7L420.7 423.4L422.7 426.0L424.7 428.5L426.7 430.9L428.7 433.2L430.7 435.5L432.7 437.7L434.7 439.8L436.7 441.8L438.7 443.9L440.7 445.8L442.7 447.8L444.7 449.7L446.7 451.6L448.7 453.5L450.7 455.3L452.7 457.2L454.7 459.0L456.7 460.8L458.7 462.5L460.7 464.3L462.7 466.0L464.7 467.7L466.7 469.4L468.7 471.1L470.7 472.7L472.6 474.3L474.6 475.9L476.6 477.5L478.6 479.1L480.6 480.7L482.6 482.2L484.6 483.7L486.6 485.2L488.6 486.7L490.6 488.1L492.6 489.6L494.6 491.0L496.6 492.4L498.6 493.8L500.6 495.2L502.6 496.5L504.6 497.8L506.6 499.1L508.6 500.4L510.6 501.7L512.6 502.9L514.6 504.1L516.6 505.3L518.6 506.5L520.6 507.6L522.6 508.8L524.6 509.9L526.5 510.9L528.5 512.0L530.5 513.0L532.5 514.0L534.5 514.9L536.5 515.9L538.5 516.8L540.5 517.7L542.5 518.5L544.5 519.4L546.5 520.2L548.5 520.9L550.5 521.7L552.5 522.4L554.5 523.1L556.5 523.7L558.5 524.3L560.5 524.9L562.5 525.5L564.5 526.1L566.5 526.6L568.5 527.1L570.5 527.6L572.5 528.1L574.5 528.6L576.5 529.0L578.5 529.4L580.4 529.8L582.4 530.2L584.4 530.6L586.4 530.9L588.4 531.3L590.4 531.6L592.4 532.0L594.4 532.3L596.4 532.6L598.4 532.9L600.4 533.2L602.4 533.5L604.4 533.7L606.4 534.0L606.4 534.0L604.4 533.7L602.4 533.5L600.4 533.3L598.4 533.1L596.4 532.9L594.4 532.7L592.4 532.5L590.4 532.2L588.4 531.9L586.4 531.6L584.4 531.2L582.4 530.8L580.4 530.4L578.5 530.0L576.5 529.5L574.5 529.1L572.5 528.6L570.5 528.0L568.5 527.5L566.5 526.9L564.5 526.3L562.5 525.7L560.5 525.0L558.5 524.3L556.5 523.7L554.5 523.1L552.5 522.4L550.5 521.7L548.5 520.9L546.5 520.2L544.5 519.4L542.5 518.5L540.5 517.7L538.5 516.8L536.5 515.9L534.5 514.9L532.5 514.0L530.5 513.0L528.5 512.0L526.5 510.9L524.6 509.9L522.6 508.8L520.6 507.6L518.6 506.5L516.6 505.3L514.6 504.1L512.6 502.9L510.6 501.7L508.6 500.4L506.6 499.1L504.6 497.8L502.6 496.5L500.6 495.2L498.6 493.8L496.6 492.4L494.6 491.0L492.6 489.6L490.6 488.1L488.6 486.7L486.6 485.2L484.6 483.7L482.6 482.3L480.6 480.8L478.6 479.2L476.6 477.7L474.6 476.1L472.6 474.5L470.7 472.9L468.7 471.3L466.7 469.7L464.7 468.0L462.7 466.4L460.7 464.7L458.7 463.0L456.7 461.3L454.7 459.5L452.7 457.8L450.7 456.0L448.7 454.2L446.7 452.4L444.7 450.6L442.7 448.7L440.7 446.9L438.7 445.0L436.7 443.1L434.7 441.2L432.7 439.3L430.7 437.3L428.7 435.4L426.7 433.4L424.7 431.4L422.7 429.4L420.7 427.4L418.7 425.4L416.8 423.4L414.8 421.3L412.8 419.2L410.8 417.2L408.8 415.1L406.8 413.0L404.8 410.9L402.8 408.7L400.8 406.6L398.8 404.5L396.8 402.3L394.8 400.2L392.8 398.0L390.8 395.9L388.8 393.7L386.8 391.5L384.8 389.3L382.8 387.2L380.8 385.0L378.8 382.8L376.8 380.6L374.8 378.4L372.8 376.2L370.8 374.0L368.8 371.9L366.8 369.7L364.8 367.5L362.9 365.3L360.9 363.1L358.9 361.0L356.9 358.8L354.9 356.7L352.9 354.5L350.9 352.4L348.9 350.2L346.9 348.1L344.9 346.0L342.9 343.9L340.9 341.8L338.9 339.8L336.9 337.7L334.9 335.7L332.9 333.7L330.9 331.7L328.9 329.7L326.9 327.7L324.9 325.8L322.9 323.9L320.9 322.0L318.9 320.1L316.9 318.2L314.9 316.4L312.9 314.6L310.9 312.8L309.0 311.1L307.0 309.3L305.0 307.6L303.0 306.0L301.0 304.3L299.0 302.7L297.0 301.0L295.0 299.5L293.0 297.9L291.0 296.3L289.0 294.8L287.0 293.3L285.0 291.7L283.0 290.2L281.0 288.8L279.0 287.3L277.0 285.8L275.0 284.4L273.0 283.0L271.0 281.5L269.0 280.1L267.0 278.7L265.0 277.3L263.0 275.9L261.0 274.5L259.0 273.1L257.0 271.7L255.1 270.3L253.1 269.0L251.1 267.6L249.1 266.2L247.1 264.9L245.1 263.5L243.1 262.2L241.1 260.9L239.1 259.5L237.1 258.2L235.1 256.9L233.1 255.6L231.1 254.4L229.1 253.1L227.1 251.9L225.1 250.6L223.1 249.4L221.1 248.2L219.1 247.0L217.1 245.8L215.1 244.7L213.1 243.5L211.1 242.4L209.1 241.3L207.1 240.2L205.1 239.2L203.1 238.1L201.2 237.1L199.2 236.1L197.2 235.1L195.2 234.3L193.2 233.5L191.2 232.7L189.2 232.0L187.2 231.2L185.2 230.5L183.2 229.7L181.2 229.0L179.2 228.3L177.2 227.5L175.2 226.8L173.2 226.1L171.2 225.4L169.2 224.7L167.2 224.1L165.2 223.4L163.2 222.7L161.2 222.1L159.2 221.4L157.2 220.8L155.2 220.1L153.2 219.5L151.2 218.9L149.2 218.3L147.3 217.7L145.3 217.1L143.3 216.5L141.3 215.9L139.3 215.3L137.3 214.8L135.3 214.2L133.3 213.7L131.3 213.1L129.3 212.6L127.3 212.1L125.3 211.6L123.3 211.2L121.3 210.7L119.3 210.3L117.3 209.8L115.3 209.3L113.3 208.9L111.3 208.4L109.3 208.0L107.3 207.5L105.3 207.0L103.3 206.6L101.3 206.2L99.3 205.7L97.3 205.3L95.3 204.9L93.4 204.5L91.4 204.1L89.4 203.8L87.4 203.5L85.4 203.3L83.4 203.0L81.4 202.8L79.4 202.6L77.4 202.4L75.4 202.2L73.4 202.1L71.4 202.0L69.4 201.9L67.4 201.9Z"/></clipPath>
<g clip-path="url(#cb)" fill="#6f9a68"><path d="M340.9 429.2L342.9 425.2L344.9 421.3L346.9 417.5L348.9 413.8L350.9 410.3L352.9 407.0L354.9 403.8L356.9 400.8L358.9 398.1L360.9 395.7L362.9 393.4L364.9 391.5L366.9 389.9L368.9 388.7L370.9 387.8L372.9 387.2L374.9 387.1L376.9 387.3L378.9 388.0L380.9 389.2L382.9 390.8L384.9 392.9L386.9 395.4L388.9 398.3L390.9 401.6L392.9 405.3L394.9 409.5L396.9 414.0L398.9 418.9L400.9 424.2L402.9 429.8L404.9 435.8L406.9 442.0L408.9 448.5L410.9 455.2L412.9 462.0L414.9 468.9L416.9 475.9L418.9 482.9" fill="none" stroke="#6f9a68" stroke-width="5.1"/><circle cx="355.8" cy="379.4" r="6.3"/><circle cx="362.5" cy="388.5" r="6.3"/><circle cx="369" cy="383.6" r="6.3"/><circle cx="375.7" cy="376.9" r="6.3"/><circle cx="381.9" cy="412.6" r="6.3"/><circle cx="388.1" cy="405.9" r="6.3"/><circle cx="394.3" cy="417.1" r="6.3"/><circle cx="401" cy="425.8" r="6.3"/><circle cx="407.4" cy="436.2" r="6.3"/><circle cx="414.1" cy="474.1" r="6.3"/></g>
<path d="M67.4 193.9L69.4 194.0L71.4 194.0L73.4 194.1L75.4 194.2L77.4 194.3L79.4 194.4L81.4 194.4L83.4 194.6L85.4 194.7L87.4 194.8L89.4 194.9L91.4 195.1L93.4 195.3L95.3 195.5L97.3 195.7L99.3 195.9L101.3 196.1L103.3 196.4L105.3 196.7L107.3 197.0L109.3 197.3L111.3 197.7L113.3 198.1L115.3 198.5L117.3 199.0L119.3 199.5L121.3 199.9L123.3 200.4L125.3 200.9L127.3 201.4L129.3 201.9L131.3 202.4L133.3 202.9L135.3 203.4L137.3 203.9L139.3 204.3L141.3 204.8L143.3 205.2L145.3 205.6L147.3 205.9L149.2 206.3L151.2 206.6L153.2 207.0L155.2 207.3L157.2 207.6L159.2 207.9L161.2 208.2L163.2 208.5L165.2 208.8L167.2 209.1L169.2 209.4L171.2 209.7L173.2 210.0L175.2 210.3L177.2 210.7L179.2 211.0L181.2 211.3L183.2 211.7L185.2 212.0L187.2 212.4L189.2 212.8L191.2 213.2L193.2 213.7L195.2 214.1L197.2 214.6L199.2 215.1L201.2 215.6L203.1 216.2L205.1 216.8L207.1 217.4L209.1 218.0L211.1 218.6L213.1 219.3L215.1 220.0L217.1 220.6L219.1 221.3L221.1 222.0L223.1 222.7L225.1 223.4L227.1 224.1L229.1 224.8L231.1 225.5L233.1 226.3L235.1 227.0L237.1 227.7L239.1 228.3L241.1 229.0L243.1 229.7L245.1 230.4L247.1 231.0L249.1 231.6L251.1 232.2L253.1 232.8L255.1 233.4L257.0 233.9L259.0 234.4L261.0 234.9L263.0 235.4L265.0 235.8L267.0 236.2L269.0 236.6L271.0 236.9L273.0 237.2L275.0 237.4L277.0 237.6L279.0 237.8L281.0 237.9L283.0 238.0L285.0 238.0L287.0 238.0L289.0 237.9L291.0 237.8L293.0 237.6L295.0 237.4L297.0 237.1L299.0 236.7L301.0 236.3L303.0 235.8L305.0 235.3L307.0 234.8L309.0 234.2L310.9 233.5L312.9 232.8L314.9 232.1L316.9 231.3L318.9 230.5L320.9 229.6L322.9 228.7L324.9 227.8L326.9 226.8L328.9 225.7L330.9 224.7L332.9 223.6L334.9 222.5L336.9 221.3L338.9 220.1L340.9 218.9L342.9 217.6L344.9 216.3L346.9 215.0L348.9 213.7L350.9 212.3L352.9 210.9L354.9 209.6L356.9 208.3L358.9 207.0L360.9 205.9L362.9 204.9L364.8 204.0L366.8 203.3L368.8 202.7L370.8 202.5L372.8 202.4L374.8 202.6L376.8 203.1L378.8 203.9L380.8 204.9L382.8 206.1L384.8 207.7L386.8 209.5L388.8 211.6L390.8 214.0L392.8 216.7L394.8 219.7L396.8 223.0L398.8 226.7L400.8 230.8L402.8 235.2L404.8 239.8L406.8 244.7L408.8 249.7L410.8 254.8L412.8 260.1L414.8 265.4L416.8 270.8L418.7 276.3L420.7 281.7L422.7 287.2L424.7 292.6L426.7 297.9L428.7 303.1L430.7 308.3L432.7 313.3L434.7 318.2L436.7 323.0L438.7 327.8L440.7 332.5L442.7 337.1L444.7 341.6L446.7 346.1L448.7 350.6L450.7 355.0L452.7 359.4L454.7 363.8L456.7 368.2L458.7 372.6L460.7 376.9L462.7 381.2L464.7 385.5L466.7 389.7L468.7 393.9L470.7 397.9L472.6 402.0L474.6 405.9L476.6 409.7L478.6 413.5L480.6 417.1L482.6 420.6L484.6 424.0L486.6 427.3L488.6 430.5L490.6 433.5L492.6 436.4L494.6 439.2L496.6 442.0L498.6 444.6L500.6 447.1L502.6 449.6L504.6 452.0L506.6 454.3L508.6 456.5L510.6 458.7L512.6 460.8L514.6 462.9L516.6 464.9L518.6 466.9L520.6 468.8L522.6 470.7L524.6 472.6L526.5 474.4L528.5 476.2L530.5 478.0L532.5 479.7L534.5 481.4L536.5 483.0L538.5 484.7L540.5 486.2L542.5 487.8L544.5 489.3L546.5 490.8L548.5 492.2L550.5 493.6L552.5 495.0L554.5 496.3L556.5 497.6L558.5 498.9L560.5 500.1L562.5 501.3L564.5 502.4L566.5 503.6L568.5 504.6L570.5 505.7L572.5 506.7L574.5 507.6L576.5 508.6L578.5 509.5L580.4 510.3L582.4 511.1L584.4 511.9L586.4 512.6L588.4 513.4L590.4 514.0L592.4 514.6L594.4 515.2L596.4 515.8L598.4 516.3L600.4 516.8L602.4 517.2L604.4 517.6L606.4 518.0" fill="none" stroke="#3b6db5" stroke-width="2.8" stroke-dasharray="2.6 4.45" stroke-dashoffset="-0.8"/>
<path d="M67.4 201.9L69.4 201.9L71.4 202.0L73.4 202.1L75.4 202.2L77.4 202.4L79.4 202.6L81.4 202.8L83.4 203.0L85.4 203.3L87.4 203.5L89.4 203.8L91.4 204.1L93.4 204.4L95.3 204.8L97.3 205.2L99.3 205.5L101.3 205.9L103.3 206.3L105.3 206.7L107.3 207.2L109.3 207.6L111.3 208.1L113.3 208.5L115.3 209.0L117.3 209.5L119.3 210.0L121.3 210.5L123.3 211.0L125.3 211.5L127.3 212.0L129.3 212.6L131.3 213.1L133.3 213.7L135.3 214.2L137.3 214.8L139.3 215.3L141.3 215.9L143.3 216.5L145.3 217.1L147.3 217.7L149.2 218.3L151.2 218.9L153.2 219.5L155.2 220.1L157.2 220.8L159.2 221.4L161.2 222.1L163.2 222.7L165.2 223.4L167.2 224.1L169.2 224.7L171.2 225.4L173.2 226.1L175.2 226.8L177.2 227.5L179.2 228.3L181.2 229.0L183.2 229.7L185.2 230.5L187.2 231.2L189.2 232.0L191.2 232.7L193.2 233.5L195.2 234.3L197.2 235.1L199.2 235.9L201.2 236.7L203.1 237.5L205.1 238.3L207.1 239.1L209.1 239.9L211.1 240.8L213.1 241.6L215.1 242.3L217.1 243.1L219.1 243.8L221.1 244.5L223.1 245.1L225.1 245.7L227.1 246.1L229.1 246.6L231.1 246.9L233.1 247.2L235.1 247.3L237.1 247.4L239.1 247.4L241.1 247.2L243.1 246.9L245.1 246.5L247.1 245.9L249.1 245.2L251.1 244.4L253.1 243.4L255.1 242.3L257.0 241.0L259.0 239.6L261.0 238.0L263.0 236.4L265.0 234.6L267.0 232.7L269.0 230.7L271.0 228.5L273.0 226.3L275.0 224.0L277.0 221.6L279.0 219.1L281.0 216.6L283.0 214.1L285.0 211.6L287.0 209.1L289.0 206.7L291.0 204.4L293.0 202.1L295.0 200.0L297.0 198.0L299.0 196.2L301.0 194.6L303.0 193.2L305.0 192.0L307.0 191.1L309.0 190.4L310.9 190.0L312.9 189.9L314.9 190.1L316.9 190.6L318.9 191.5L320.9 192.7L322.9 194.3L324.9 196.3L326.9 198.7L328.9 201.4L330.9 204.4L332.9 207.8L334.9 211.6L336.9 215.6L338.9 220.0L340.9 224.7L342.9 229.6L344.9 234.9L346.9 240.3L348.9 245.9L350.9 251.7L352.9 257.7L354.9 263.7L356.9 269.9L358.9 276.1L360.9 282.4L362.9 288.7L364.8 294.9L366.8 301.2L368.8 307.4L370.8 313.6L372.8 319.7L374.8 325.7L376.8 331.6L378.8 337.4L380.8 343.1L382.8 348.5L384.8 353.9L386.8 359.0L388.8 364.0L390.8 368.8L392.8 373.5L394.8 378.0L396.8 382.3L398.8 386.5L400.8 390.6L402.8 394.5L404.8 398.2L406.8 401.8L408.8 405.3L410.8 408.6L412.8 411.8L414.8 414.9L416.8 417.8L418.7 420.7L420.7 423.4L422.7 426.0L424.7 428.5L426.7 430.9L428.7 433.2L430.7 435.5L432.7 437.7L434.7 439.8L436.7 441.8L438.7 443.9L440.7 445.8L442.7 447.8L444.7 449.7L446.7 451.6L448.7 453.5L450.7 455.3L452.7 457.2L454.7 459.0L456.7 460.8L458.7 462.5L460.7 464.3L462.7 466.0L464.7 467.7L466.7 469.4L468.7 471.1L470.7 472.7L472.6 474.3L474.6 475.9L476.6 477.5L478.6 479.1L480.6 480.7L482.6 482.2L484.6 483.7L486.6 485.2L488.6 486.7L490.6 488.1L492.6 489.6L494.6 491.0L496.6 492.4L498.6 493.8L500.6 495.2L502.6 496.5L504.6 497.8L506.6 499.1L508.6 500.4L510.6 501.7L512.6 502.9L514.6 504.1L516.6 505.3L518.6 506.5L520.6 507.6L522.6 508.8L524.6 509.9L526.5 510.9L528.5 512.0L530.5 513.0L532.5 514.0L534.5 514.9L536.5 515.9L538.5 516.8L540.5 517.7L542.5 518.5L544.5 519.4L546.5 520.2L548.5 520.9L550.5 521.7L552.5 522.4L554.5 523.1L556.5 523.7L558.5 524.3L560.5 524.9L562.5 525.5L564.5 526.1L566.5 526.6L568.5 527.1L570.5 527.6L572.5 528.1L574.5 528.6L576.5 529.0L578.5 529.4L580.4 529.8L582.4 530.2L584.4 530.6L586.4 530.9L588.4 531.3L590.4 531.6L592.4 532.0L594.4 532.3L596.4 532.6L598.4 532.9L600.4 533.2L602.4 533.5L604.4 533.7L606.4 534.0" fill="none" stroke="#3b6db5" stroke-width="2.8" stroke-dasharray="2.6 4.45" stroke-dashoffset="-0.8"/>
<path d="M66.6 136.1L68.6 136.4L70.6 136.6L72.6 136.9L74.6 137.2L76.6 137.5L78.6 137.7L80.6 138.0L82.6 138.3L84.6 138.6L86.6 138.8L88.6 139.1L90.6 139.4L92.6 139.6L94.6 139.9L96.6 140.2L98.6 140.4L100.6 140.7L102.6 141.0L104.6 141.3L106.6 141.5L108.6 141.8L110.6 142.1L112.6 142.4L114.6 142.6L116.6 142.9L118.6 143.2L120.6 143.5L122.6 143.8L124.6 144.1L126.6 144.4L128.6 144.7L130.6 145.0L132.6 145.3L134.6 145.6L136.6 146.0L138.6 146.3L140.6 146.6L142.6 147.0L144.6 147.3L146.6 147.6L148.6 148.0L150.6 148.4L152.6 148.7L154.6 149.1L156.6 149.5L158.6 149.9L160.6 150.3L162.6 150.7L164.6 151.1L166.6 151.5L168.6 151.9L170.6 152.4L172.6 152.8L174.6 153.3L176.6 153.7L178.6 154.2L180.6 154.6L182.6 155.1L184.6 155.5L186.6 156.0L188.6 156.4L190.6 156.8L192.6 157.2L194.6 157.6L196.6 158.0L198.6 158.3L200.6 158.7L202.5 159.0L204.5 159.3L206.5 159.5L208.5 159.8L210.5 160.0L212.5 160.1L214.5 160.2L216.5 160.3L218.5 160.4L220.5 160.4L222.5 160.4L224.5 160.3L226.5 160.2L228.5 160.0L230.5 159.8L232.5 159.4L234.5 159.0L236.5 158.5L238.5 157.9L240.5 157.2L242.5 156.4L244.5 155.4L246.5 154.3L248.5 153.0L250.5 151.6L252.5 149.9L254.5 148.1L256.5 146.1L258.5 143.9L260.5 141.5L262.5 138.9L264.5 136.1L266.5 133.0L268.5 129.9L270.5 126.6L272.5 123.1L274.5 119.5L276.5 115.9L278.5 112.2L280.5 108.4L282.5 104.6L284.5 100.7L286.5 96.9L288.5 93.1L290.5 89.3L292.5 85.5L294.5 81.8L296.5 78.3L298.5 74.7L300.5 71.4L302.5 68.1L304.5 64.9L306.5 61.9L308.5 59.1L310.5 56.4L312.5 54.0L314.5 51.7L316.5 49.6L318.5 47.8L320.5 46.2L322.5 44.9L324.5 43.8L326.5 43.0L328.5 42.5L330.5 42.3L332.5 42.3L334.5 42.7L336.5 43.3L338.5 44.1L340.5 45.3L342.5 46.7L344.5 48.4L346.5 50.4L348.5 52.6L350.5 55.1L352.5 57.8L354.5 60.6L356.5 63.7L358.5 66.9L360.5 70.2L362.5 73.7L364.5 77.2L366.5 80.9L368.5 84.7L370.5 88.5L372.5 92.4L374.5 96.5L376.5 100.6L378.5 104.8L380.5 109.2L382.5 113.6L384.5 118.2L386.5 122.8L388.5 127.6L390.5 132.4L392.5 137.4L394.5 142.5L396.5 147.8L398.5 153.1L400.5 158.6L402.5 164.2L404.5 169.9L406.5 175.7L408.5 181.6L410.5 187.7L412.5 193.7L414.5 199.9L416.5 206.1L418.5 212.3L420.5 218.4L422.5 224.6L424.5 230.7L426.5 236.8L428.5 242.8L430.5 248.7L432.5 254.5L434.5 260.1L436.5 265.6L438.5 271.0L440.5 276.3L442.5 281.5L444.5 286.5L446.5 291.5L448.5 296.3L450.5 301.0L452.5 305.6L454.5 310.1L456.5 314.5L458.5 318.7L460.5 322.9L462.5 327.0L464.5 331.0L466.5 334.9L468.5 338.7L470.5 342.4L472.4 346.0L474.4 349.5L476.4 353.0L478.4 356.4L480.4 359.7L482.4 362.9L484.4 366.0L486.4 369.1L488.4 372.1L490.4 375.0L492.4 377.9L494.4 380.7L496.4 383.5L498.4 386.1L500.4 388.8L502.4 391.3L504.4 393.8L506.4 396.3L508.4 398.7L510.4 401.0L512.4 403.3L514.4 405.5L516.4 407.7L518.4 409.8L520.4 411.9L522.4 413.9L524.4 415.9L526.4 417.8L528.4 419.7L530.4 421.5L532.4 423.3L534.4 425.0L536.4 426.7L538.4 428.3L540.4 429.9L542.4 431.4L544.4 432.9L546.4 434.4L548.4 435.8L550.4 437.1L552.4 438.5L554.4 439.8L556.4 441.0L558.4 442.2L560.4 443.4L562.4 444.5L564.4 445.6L566.4 446.7L568.4 447.7L570.4 448.7L572.4 449.6L574.4 450.6L576.4 451.5L578.4 452.3L580.4 453.1L582.4 453.9L584.4 454.7L586.4 455.4L588.4 456.2L590.4 456.8L592.4 457.5L594.4 458.1L596.4 458.7L598.4 459.3L600.4 459.9L602.4 460.4L604.4 460.9L606.4 461.4" fill="none" stroke="#3b6db5" stroke-width="5"/>
<g fill="#3b6db5"><circle cx="66.6" cy="136.5" r="6.3"/><circle cx="73.1" cy="129.8" r="6.3"/><circle cx="80.3" cy="126.1" r="6.3"/><circle cx="86.7" cy="130.3" r="6.3"/><circle cx="92.7" cy="136.7" r="6.3"/><circle cx="99.1" cy="136.7" r="6.3"/><circle cx="105.1" cy="142.7" r="6.3"/><circle cx="111.5" cy="142.2" r="6.3"/><circle cx="117.5" cy="150.9" r="6.3"/><circle cx="123.9" cy="147.1" r="6.3"/><circle cx="130.6" cy="149.6" r="6.3"/><circle cx="137.3" cy="145.9" r="6.3"/><circle cx="143.8" cy="151.6" r="6.3"/><circle cx="150" cy="161.5" r="6.3"/><circle cx="156.7" cy="159.6" r="6.3"/><circle cx="163.2" cy="160.8" r="6.3"/><circle cx="169.9" cy="150.4" r="6.3"/><circle cx="176.1" cy="167.5" r="6.3"/><circle cx="182.8" cy="169" r="6.3"/><circle cx="189" cy="162" r="6.3"/><circle cx="195.2" cy="163.3" r="6.3"/><circle cx="201.4" cy="167.5" r="6.3"/><circle cx="208.4" cy="180.4" r="6.3"/><circle cx="214.5" cy="166.7" r="6.3"/><circle cx="220.5" cy="161.1" r="6.3"/><circle cx="227.8" cy="160.9" r="6.3"/><circle cx="234.2" cy="163.4" r="6.3"/><circle cx="240.4" cy="156.5" r="6.3"/><circle cx="247.1" cy="155.2" r="6.3"/><circle cx="253.3" cy="147" r="6.3"/><circle cx="260" cy="144.1" r="6.3"/><circle cx="266.3" cy="133.6" r="6.3"/><circle cx="272.7" cy="122.5" r="6.3"/><circle cx="279.2" cy="111.1" r="6.3"/><circle cx="285.4" cy="99.4" r="6.3"/><circle cx="291.8" cy="87.5" r="6.3"/><circle cx="298.3" cy="72.9" r="6.3"/><circle cx="305" cy="65.4" r="6.3"/><circle cx="311.2" cy="55.2" r="6.3"/><circle cx="317.4" cy="49.8" r="6.3"/><circle cx="324.1" cy="46.1" r="6.3"/><circle cx="330.3" cy="52.3" r="6.3"/><circle cx="336.5" cy="44.3" r="6.3"/><circle cx="343.2" cy="46.8" r="6.3"/><circle cx="349.6" cy="48.5" r="6.3"/><circle cx="356.3" cy="50.1" r="6.3"/><circle cx="362.4" cy="62.9" r="6.3"/><circle cx="368.8" cy="82" r="6.3"/><circle cx="375.3" cy="96.5" r="6.3"/><circle cx="381.8" cy="106.4" r="6.3"/><circle cx="388.2" cy="123.8" r="6.3"/><circle cx="394.7" cy="147.1" r="6.3"/><circle cx="401.1" cy="166.5" r="6.3"/><circle cx="407.5" cy="183.8" r="6.3"/><circle cx="413.6" cy="207.8" r="6.3"/><circle cx="419.8" cy="225.9" r="6.3"/><circle cx="426.5" cy="233.3" r="6.3"/><circle cx="433" cy="260.1" r="6.3"/><circle cx="439.7" cy="279.3" r="6.3"/><circle cx="445.9" cy="285.5" r="6.3"/><circle cx="452.1" cy="304.1" r="6.3"/><circle cx="458.8" cy="311.5" r="6.3"/><circle cx="465" cy="317.7" r="6.3"/><circle cx="471.9" cy="343.7" r="6.3"/><circle cx="478.4" cy="346.2" r="6.3"/><circle cx="484.8" cy="354.8" r="6.3"/><circle cx="491.5" cy="362.3" r="6.3"/><circle cx="497.2" cy="388.3" r="6.3"/><circle cx="503.4" cy="377.1" r="6.3"/><circle cx="510.1" cy="389.1" r="6.3"/><circle cx="516.3" cy="396.5" r="6.3"/><circle cx="522.5" cy="405.7" r="6.3"/><circle cx="528.9" cy="414.4" r="6.3"/><circle cx="535.6" cy="409.9" r="6.3"/><circle cx="541.8" cy="425.5" r="6.3"/><circle cx="548.3" cy="433" r="6.3"/><circle cx="555" cy="432.5" r="6.3"/><circle cx="561.7" cy="424.3" r="6.3"/><circle cx="567.9" cy="451.6" r="6.3"/><circle cx="574.4" cy="464.7" r="6.3"/><circle cx="580.8" cy="457.8" r="6.3"/><circle cx="587" cy="447.9" r="6.3"/><circle cx="593.5" cy="456.6" r="6.3"/><circle cx="600.2" cy="476.4" r="6.3"/><circle cx="606.4" cy="466" r="6.3"/></g>
<rect x="42.6" y="648" width="277" height="236.8" fill="#fff"/>
<rect x="45.6" y="648" width="270.9" height="230" fill="#fff" stroke="#444" stroke-width="1.2"/>
<path d="M43.4 736.4v1.5M43.4 754.6v1.5M43.4 760.9v1.5" stroke="#777" stroke-width="1" fill="none"/>
<rect x="104.6" y="793.3" width="61.3" height="84.1" fill="#fafcfc"/>
<rect x="165.9" y="701.3" width="60.4" height="176.1" fill="#fafcfc"/>
<rect x="226.3" y="762.6" width="61.0" height="114.8" fill="#fafcfc"/>
<clipPath id="ci"><path d="M58.2 862.2L59.2 862.1L60.2 862.0L61.2 862.0L62.2 861.9L63.2 861.8L64.2 861.8L65.2 861.7L66.2 861.6L67.2 861.6L68.2 861.5L69.2 861.4L70.2 861.3L71.2 861.2L72.2 861.2L73.2 861.1L74.2 861.0L75.2 860.9L76.2 860.8L77.2 860.7L78.2 860.6L79.2 860.5L80.2 860.4L81.2 860.3L82.2 860.2L83.2 860.1L84.2 860.0L85.2 859.9L86.2 859.8L87.2 859.7L88.2 859.5L89.2 859.4L90.2 859.3L91.2 859.2L92.2 859.0L93.2 858.9L94.2 858.8L95.2 858.6L96.2 858.5L97.2 858.3L98.2 858.2L99.2 858.0L100.2 857.8L101.2 857.7L102.2 857.5L103.2 857.3L104.2 857.2L105.2 857.0L106.2 856.8L107.2 856.6L108.2 856.4L109.2 856.2L110.2 856.0L111.2 855.7L112.2 855.5L113.2 855.3L114.2 855.0L115.2 854.8L116.2 854.5L117.2 854.3L118.2 854.0L119.2 853.7L120.2 853.4L121.2 853.1L122.2 852.8L123.2 852.5L124.2 852.2L125.2 851.9L126.2 851.5L127.2 851.1L128.2 850.8L129.2 850.4L130.2 850.0L131.2 849.6L132.2 849.1L133.2 848.7L134.2 848.2L135.2 847.8L136.2 847.3L137.2 846.8L138.2 846.2L139.2 845.7L140.2 845.1L141.2 844.5L142.2 843.9L143.2 843.2L144.2 842.6L145.2 841.9L146.2 841.2L147.2 840.4L148.2 839.6L149.2 838.8L150.2 837.9L151.2 837.1L152.2 836.1L153.2 835.2L154.2 834.2L155.2 833.1L156.2 832.0L157.2 830.9L158.2 829.7L159.2 828.4L160.2 827.1L161.2 825.8L162.2 824.4L163.2 822.9L164.2 821.3L165.2 819.7L166.2 818.0L167.2 816.2L168.2 814.3L169.2 812.4L170.2 810.4L171.2 808.3L172.2 806.0L173.2 803.7L174.2 801.3L175.2 798.8L176.2 796.2L177.2 793.5L178.2 790.7L179.2 787.7L180.2 784.7L181.2 781.6L182.2 778.3L183.2 775.0L184.2 771.6L185.2 768.1L186.2 764.6L187.2 761.0L188.2 757.4L189.2 753.8L190.2 750.2L191.2 746.7L192.2 743.2L193.2 739.8L194.2 736.6L195.2 733.5L196.2 730.7L197.2 728.1L198.2 725.8L199.2 723.8L200.2 722.2L201.2 720.9L202.2 720.0L203.2 719.6L204.2 719.5L205.2 719.9L206.2 720.7L207.2 721.9L208.2 723.5L209.2 725.4L210.2 727.6L211.2 730.2L212.2 733.0L213.2 736.0L214.2 739.2L215.2 742.5L216.2 746.0L217.2 749.5L218.2 753.1L219.2 756.7L220.2 760.3L221.2 763.9L222.2 767.4L223.2 770.9L224.2 774.3L225.2 777.7L226.2 780.9L227.2 784.1L228.2 787.1L229.2 790.1L230.2 792.9L231.2 795.7L232.2 798.3L233.2 800.8L234.2 803.3L235.2 805.6L236.2 807.8L237.2 810.0L238.2 812.0L239.2 814.0L240.2 815.8L241.2 817.6L242.2 819.3L243.2 821.0L244.2 822.6L245.2 824.1L246.2 825.5L247.2 826.9L248.2 828.2L249.2 829.4L250.2 830.6L251.2 831.8L252.2 832.9L253.2 834.0L254.2 835.0L255.2 835.9L256.2 836.9L257.2 837.8L258.2 838.6L259.2 839.5L260.2 840.2L261.2 841.0L262.2 841.7L263.2 842.4L264.2 843.1L265.2 843.8L266.2 844.4L267.2 845.0L268.2 845.6L269.2 846.1L270.2 846.6L271.2 847.2L272.2 847.7L273.2 848.1L274.2 848.6L275.2 849.1L276.2 849.5L277.2 849.9L278.2 850.3L279.2 850.7L280.2 851.1L281.2 851.4L282.2 851.8L283.2 852.1L284.2 852.5L285.2 852.8L286.2 853.1L287.2 853.4L288.2 853.7L289.2 854.0L290.2 854.2L291.2 854.5L292.2 854.7L293.2 855.0L294.2 855.2L295.2 855.5L296.2 855.7L297.2 855.9L298.2 856.1L299.2 856.3L300.2 856.5L301.2 856.7L302.2 856.9L303.2 857.1L303.2 866.9L302.2 866.9L301.2 866.9L300.2 866.9L299.2 866.9L298.2 866.9L297.2 866.9L296.2 866.9L295.2 866.9L294.2 866.9L293.2 866.9L292.2 866.9L291.2 866.9L290.2 866.9L289.2 866.9L288.2 866.9L287.2 866.9L286.2 866.9L285.2 866.9L284.2 866.9L283.2 866.9L282.2 866.9L281.2 866.9L280.2 866.9L279.2 866.9L278.2 866.9L277.2 866.9L276.2 866.9L275.2 866.9L274.2 866.9L273.2 866.9L272.2 866.9L271.2 866.9L270.2 866.9L269.2 866.9L268.2 866.9L267.2 866.9L266.2 866.9L265.2 866.9L264.2 866.9L263.2 866.9L262.2 866.9L261.2 866.9L260.2 866.9L259.2 866.9L258.2 866.9L257.2 866.9L256.2 866.9L255.2 866.9L254.2 866.9L253.2 866.9L252.2 866.9L251.2 866.9L250.2 866.9L249.2 866.9L248.2 866.9L247.2 866.9L246.2 866.9L245.2 866.9L244.2 866.9L243.2 866.9L242.2 866.9L241.2 866.9L240.2 866.9L239.2 866.9L238.2 866.9L237.2 866.9L236.2 866.9L235.2 866.9L234.2 866.9L233.2 866.9L232.2 866.9L231.2 866.9L230.2 866.9L229.2 866.9L228.2 866.9L227.2 866.9L226.2 866.9L225.2 866.9L224.2 866.9L223.2 866.9L222.2 866.9L221.2 866.9L220.2 866.9L219.2 866.9L218.2 866.9L217.2 866.9L216.2 866.9L215.2 866.9L214.2 866.9L213.2 866.9L212.2 866.9L211.2 866.9L210.2 866.9L209.2 866.9L208.2 866.9L207.2 866.9L206.2 866.9L205.2 866.9L204.2 866.9L203.2 866.9L202.2 866.9L201.2 866.9L200.2 866.9L199.2 866.9L198.2 866.9L197.2 866.9L196.2 866.9L195.2 866.9L194.2 866.9L193.2 866.9L192.2 866.9L191.2 866.9L190.2 866.9L189.2 866.9L188.2 866.9L187.2 866.9L186.2 866.9L185.2 866.9L184.2 866.9L183.2 866.9L182.2 866.9L181.2 866.9L180.2 866.9L179.2 866.9L178.2 866.9L177.2 866.9L176.2 866.9L175.2 866.9L174.2 866.9L173.2 866.9L172.2 866.9L171.2 866.9L170.2 866.9L169.2 866.9L168.2 866.9L167.2 866.9L166.2 866.9L165.2 866.9L164.2 866.9L163.2 866.9L162.2 866.9L161.2 866.9L160.2 866.9L159.2 866.9L158.2 866.9L157.2 866.9L156.2 866.9L155.2 866.9L154.2 866.9L153.2 866.9L152.2 866.9L151.2 866.9L150.2 866.9L149.2 866.9L148.2 866.9L147.2 866.9L146.2 866.9L145.2 866.9L144.2 866.9L143.2 866.9L142.2 866.9L141.2 866.9L140.2 866.9L139.2 866.9L138.2 866.9L137.2 866.9L136.2 866.9L135.2 866.9L134.2 866.9L133.2 866.9L132.2 866.9L131.2 866.9L130.2 866.9L129.2 866.9L128.2 866.9L127.2 866.9L126.2 866.9L125.2 866.9L124.2 866.9L123.2 866.9L122.2 866.9L121.2 866.9L120.2 866.9L119.2 866.9L118.2 866.9L117.2 866.9L116.2 866.9L115.2 866.9L114.2 866.9L113.2 866.9L112.2 866.9L111.2 866.9L110.2 866.9L109.2 866.9L108.2 866.9L107.2 866.9L106.2 866.9L105.2 866.9L104.2 866.9L103.2 866.9L102.2 866.9L101.2 866.9L100.2 866.9L99.2 866.9L98.2 866.9L97.2 866.9L96.2 866.9L95.2 866.9L94.2 866.9L93.2 866.9L92.2 866.9L91.2 866.9L90.2 866.9L89.2 866.9L88.2 866.9L87.2 866.9L86.2 866.9L85.2 866.9L84.2 866.9L83.2 866.9L82.2 866.9L81.2 866.9L80.2 866.9L79.2 866.9L78.2 866.9L77.2 866.9L76.2 866.9L75.2 866.9L74.2 866.9L73.2 866.9L72.2 866.9L71.2 866.9L70.2 866.9L69.2 866.9L68.2 866.9L67.2 866.9L66.2 866.9L65.2 866.9L64.2 866.9L63.2 866.9L62.2 866.9L61.2 866.9L60.2 866.9L59.2 866.9L58.2 866.9Z"/></clipPath>
<path d="M58.2 862.2L59.2 862.1L60.2 862.0L61.2 862.0L62.2 861.9L63.2 861.8L64.2 861.8L65.2 861.7L66.2 861.6L67.2 861.6L68.2 861.5L69.2 861.4L70.2 861.3L71.2 861.2L72.2 861.2L73.2 861.1L74.2 861.0L75.2 860.9L76.2 860.8L77.2 860.7L78.2 860.6L79.2 860.5L80.2 860.4L81.2 860.3L82.2 860.2L83.2 860.1L84.2 860.0L85.2 859.9L86.2 859.8L87.2 859.7L88.2 859.5L89.2 859.4L90.2 859.3L91.2 859.2L92.2 859.0L93.2 858.9L94.2 858.8L95.2 858.6L96.2 858.5L97.2 858.3L98.2 858.2L99.2 858.0L100.2 857.8L101.2 857.7L102.2 857.5L103.2 857.3L104.2 857.2L105.2 857.0L106.2 856.8L107.2 856.6L108.2 856.4L109.2 856.2L110.2 856.0L111.2 855.7L112.2 855.5L113.2 855.3L114.2 855.0L115.2 854.8L116.2 854.5L117.2 854.3L118.2 854.0L119.2 853.7L120.2 853.4L121.2 853.1L122.2 852.8L123.2 852.5L124.2 852.2L125.2 851.9L126.2 851.5L127.2 851.1L128.2 850.8L129.2 850.4L130.2 850.0L131.2 849.6L132.2 849.1L133.2 848.7L134.2 848.2L135.2 847.8L136.2 847.3L137.2 846.8L138.2 846.2L139.2 845.7L140.2 845.1L141.2 844.5L142.2 843.9L143.2 843.2L144.2 842.6L145.2 841.9L146.2 841.2L147.2 840.4L148.2 839.6L149.2 838.8L150.2 837.9L151.2 837.1L152.2 836.1L153.2 835.2L154.2 834.2L155.2 833.1L156.2 832.0L157.2 830.9L158.2 829.7L159.2 828.4L160.2 827.1L161.2 825.8L162.2 824.4L163.2 822.9L164.2 821.3L165.2 819.7L166.2 818.0L167.2 816.2L168.2 814.3L169.2 812.4L170.2 810.4L171.2 808.3L172.2 806.0L173.2 803.7L174.2 801.3L175.2 798.8L176.2 796.2L177.2 793.5L178.2 790.7L179.2 787.7L180.2 784.7L181.2 781.6L182.2 778.3L183.2 775.0L184.2 771.6L185.2 768.1L186.2 764.6L187.2 761.0L188.2 757.4L189.2 753.8L190.2 750.2L191.2 746.7L192.2 743.2L193.2 739.8L194.2 736.6L195.2 733.5L196.2 730.7L197.2 728.1L198.2 725.8L199.2 723.8L200.2 722.2L201.2 720.9L202.2 720.0L203.2 719.6L204.2 719.5L205.2 719.9L206.2 720.7L207.2 721.9L208.2 723.5L209.2 725.4L210.2 727.6L211.2 730.2L212.2 733.0L213.2 736.0L214.2 739.2L215.2 742.5L216.2 746.0L217.2 749.5L218.2 753.1L219.2 756.7L220.2 760.3L221.2 763.9L222.2 767.4L223.2 770.9L224.2 774.3L225.2 777.7L226.2 780.9L227.2 784.1L228.2 787.1L229.2 790.1L230.2 792.9L231.2 795.7L232.2 798.3L233.2 800.8L234.2 803.3L235.2 805.6L236.2 807.8L237.2 810.0L238.2 812.0L239.2 814.0L240.2 815.8L241.2 817.6L242.2 819.3L243.2 821.0L244.2 822.6L245.2 824.1L246.2 825.5L247.2 826.9L248.2 828.2L249.2 829.4L250.2 830.6L251.2 831.8L252.2 832.9L253.2 834.0L254.2 835.0L255.2 835.9L256.2 836.9L257.2 837.8L258.2 838.6L259.2 839.5L260.2 840.2L261.2 841.0L262.2 841.7L263.2 842.4L264.2 843.1L265.2 843.8L266.2 844.4L267.2 845.0L268.2 845.6L269.2 846.1L270.2 846.6L271.2 847.2L272.2 847.7L273.2 848.1L274.2 848.6L275.2 849.1L276.2 849.5L277.2 849.9L278.2 850.3L279.2 850.7L280.2 851.1L281.2 851.4L282.2 851.8L283.2 852.1L284.2 852.5L285.2 852.8L286.2 853.1L287.2 853.4L288.2 853.7L289.2 854.0L290.2 854.2L291.2 854.5L292.2 854.7L293.2 855.0L294.2 855.2L295.2 855.5L296.2 855.7L297.2 855.9L298.2 856.1L299.2 856.3L300.2 856.5L301.2 856.7L302.2 856.9L303.2 857.1L303.2 866.9L302.2 866.9L301.2 866.9L300.2 866.9L299.2 866.9L298.2 866.9L297.2 866.9L296.2 866.9L295.2 866.9L294.2 866.9L293.2 866.9L292.2 866.9L291.2 866.9L290.2 866.9L289.2 866.9L288.2 866.9L287.2 866.9L286.2 866.9L285.2 866.9L284.2 866.9L283.2 866.9L282.2 866.9L281.2 866.9L280.2 866.9L279.2 866.9L278.2 866.9L277.2 866.9L276.2 866.9L275.2 866.9L274.2 866.9L273.2 866.9L272.2 866.9L271.2 866.9L270.2 866.9L269.2 866.9L268.2 866.9L267.2 866.9L266.2 866.9L265.2 866.9L264.2 866.9L263.2 866.9L262.2 866.9L261.2 866.9L260.2 866.9L259.2 866.9L258.2 866.9L257.2 866.9L256.2 866.9L255.2 866.9L254.2 866.9L253.2 866.9L252.2 866.9L251.2 866.9L250.2 866.9L249.2 866.9L248.2 866.9L247.2 866.9L246.2 866.9L245.2 866.9L244.2 866.9L243.2 866.9L242.2 866.9L241.2 866.9L240.2 866.9L239.2 866.9L238.2 866.9L237.2 866.9L236.2 866.9L235.2 866.9L234.2 866.9L233.2 866.9L232.2 866.9L231.2 866.9L230.2 866.9L229.2 866.9L228.2 866.9L227.2 866.9L226.2 866.9L225.2 866.9L224.2 866.9L223.2 866.9L222.2 866.9L221.2 866.9L220.2 866.9L219.2 866.9L218.2 866.9L217.2 866.9L216.2 866.9L215.2 866.9L214.2 866.9L213.2 866.9L212.2 866.9L211.2 866.9L210.2 866.9L209.2 866.9L208.2 866.9L207.2 866.9L206.2 866.9L205.2 866.9L204.2 866.9L203.2 866.9L202.2 866.9L201.2 866.9L200.2 866.9L199.2 866.9L198.2 866.9L197.2 866.9L196.2 866.9L195.2 866.9L194.2 866.9L193.2 866.9L192.2 866.9L191.2 866.9L190.2 866.9L189.2 866.9L188.2 866.9L187.2 866.9L186.2 866.9L185.2 866.9L184.2 866.9L183.2 866.9L182.2 866.9L181.2 866.9L180.2 866.9L179.2 866.9L178.2 866.9L177.2 866.9L176.2 866.9L175.2 866.9L174.2 866.9L173.2 866.9L172.2 866.9L171.2 866.9L170.2 866.9L169.2 866.9L168.2 866.9L167.2 866.9L166.2 866.9L165.2 866.9L164.2 866.9L163.2 866.9L162.2 866.9L161.2 866.9L160.2 866.9L159.2 866.9L158.2 866.9L157.2 866.9L156.2 866.9L155.2 866.9L154.2 866.9L153.2 866.9L152.2 866.9L151.2 866.9L150.2 866.9L149.2 866.9L148.2 866.9L147.2 866.9L146.2 866.9L145.2 866.9L144.2 866.9L143.2 866.9L142.2 866.9L141.2 866.9L140.2 866.9L139.2 866.9L138.2 866.9L137.2 866.9L136.2 866.9L135.2 866.9L134.2 866.9L133.2 866.9L132.2 866.9L131.2 866.9L130.2 866.9L129.2 866.9L128.2 866.9L127.2 866.9L126.2 866.9L125.2 866.9L124.2 866.9L123.2 866.9L122.2 866.9L121.2 866.9L120.2 866.9L119.2 866.9L118.2 866.9L117.2 866.9L116.2 866.9L115.2 866.9L114.2 866.9L113.2 866.9L112.2 866.9L111.2 866.9L110.2 866.9L109.2 866.9L108.2 866.9L107.2 866.9L106.2 866.9L105.2 866.9L104.2 866.9L103.2 866.9L102.2 866.9L101.2 866.9L100.2 866.9L99.2 866.9L98.2 866.9L97.2 866.9L96.2 866.9L95.2 866.9L94.2 866.9L93.2 866.9L92.2 866.9L91.2 866.9L90.2 866.9L89.2 866.9L88.2 866.9L87.2 866.9L86.2 866.9L85.2 866.9L84.2 866.9L83.2 866.9L82.2 866.9L81.2 866.9L80.2 866.9L79.2 866.9L78.2 866.9L77.2 866.9L76.2 866.9L75.2 866.9L74.2 866.9L73.2 866.9L72.2 866.9L71.2 866.9L70.2 866.9L69.2 866.9L68.2 866.9L67.2 866.9L66.2 866.9L65.2 866.9L64.2 866.9L63.2 866.9L62.2 866.9L61.2 866.9L60.2 866.9L59.2 866.9L58.2 866.9Z" fill="#d3dbbe"/>
<path d="M58.2 866.9L59.2 866.9L60.2 866.9L61.2 866.9L62.2 866.9L63.2 866.9L64.2 866.9L65.2 866.9L66.2 866.9L67.2 866.9L68.2 866.9L69.2 866.9L70.2 866.9L71.2 866.9L72.2 866.9L73.2 866.9L74.2 866.9L75.2 866.9L76.2 866.9L77.2 866.9L78.2 866.9L79.2 866.9L80.2 866.9L81.2 866.9L82.2 866.9L83.2 866.9L84.2 866.9L85.2 866.9L86.2 866.9L87.2 866.9L88.2 866.9L89.2 866.9L90.2 866.9L91.2 866.9L92.2 866.9L93.2 866.9L94.2 866.9L95.2 866.9L96.2 866.9L97.2 866.9L98.2 866.9L99.2 866.9L100.2 866.9L101.2 866.9L102.2 866.9L103.2 866.9L104.2 866.9L105.2 866.9L106.2 866.9L107.2 866.9L108.2 866.8L109.2 866.8L110.2 866.8L111.2 866.8L112.2 866.8L113.2 866.7L114.2 866.7L115.2 866.6L116.2 866.6L117.2 866.5L118.2 866.4L119.2 866.3L120.2 866.2L121.2 866.0L122.2 865.8L123.2 865.6L124.2 865.4L125.2 865.1L126.2 864.8L127.2 864.4L128.2 864.0L129.2 863.5L130.2 862.9L131.2 862.3L132.2 861.5L133.2 860.7L134.2 859.8L135.2 858.8L136.2 857.6L137.2 856.4L138.2 855.0L139.2 853.4L140.2 851.8L141.2 849.9L142.2 847.9L143.2 845.8L144.2 843.5L145.2 841.0L146.2 838.4L147.2 835.6L148.2 832.7L149.2 829.7L150.2 826.5L151.2 823.2L152.2 819.8L153.2 816.3L154.2 812.7L155.2 809.1L156.2 805.5L157.2 801.8L158.2 798.2L159.2 794.7L160.2 791.2L161.2 787.9L162.2 784.7L163.2 781.7L164.2 778.8L165.2 776.2L166.2 773.9L167.2 771.8L168.2 770.1L169.2 768.6L170.2 767.5L171.2 766.7L172.2 766.3L173.2 766.2L174.2 766.6L175.2 767.3L176.2 768.5L177.2 770.1L178.2 772.1L179.2 774.5L180.2 777.2L181.2 780.1L182.2 783.4L183.2 786.9L184.2 790.5L185.2 794.3L186.2 798.2L187.2 802.2L188.2 806.2L189.2 810.2L190.2 814.2L191.2 818.1L192.2 821.9L193.2 825.6L194.2 829.2L195.2 832.6L196.2 835.8L197.2 838.8L198.2 841.7L199.2 844.4L200.2 846.8L201.2 849.1L202.2 851.2L203.2 853.1L204.2 854.8L205.2 856.4L206.2 857.8L207.2 859.0L208.2 860.1L209.2 861.1L210.2 861.9L211.2 862.7L212.2 863.3L213.2 863.9L214.2 864.4L215.2 864.8L216.2 865.2L217.2 865.5L218.2 865.7L219.2 865.9L220.2 866.1L221.2 866.3L222.2 866.4L223.2 866.5L224.2 866.6L225.2 866.6L226.2 866.7L227.2 866.7L228.2 866.8L229.2 866.8L230.2 866.8L231.2 866.8L232.2 866.9L233.2 866.9L234.2 866.9L235.2 866.9L236.2 866.9L237.2 866.9L238.2 866.9L239.2 866.9L240.2 866.9L241.2 866.9L242.2 866.9L243.2 866.9L244.2 866.9L245.2 866.9L246.2 866.9L247.2 866.9L248.2 866.9L249.2 866.9L250.2 866.9L251.2 866.9L252.2 866.9L253.2 866.9L254.2 866.9L255.2 866.9L256.2 866.9L257.2 866.9L258.2 866.9L259.2 866.9L260.2 866.9L261.2 866.9L262.2 866.9L263.2 866.9L264.2 866.9L265.2 866.9L266.2 866.9L267.2 866.9L268.2 866.9L269.2 866.9L270.2 866.9L271.2 866.9L272.2 866.9L273.2 866.9L274.2 866.9L275.2 866.9L276.2 866.9L277.2 866.9L278.2 866.9L279.2 866.9L280.2 866.9L281.2 866.9L282.2 866.9L283.2 866.9L284.2 866.9L285.2 866.9L286.2 866.9L287.2 866.9L288.2 866.9L289.2 866.9L290.2 866.9L291.2 866.9L292.2 866.9L293.2 866.9L294.2 866.9L295.2 866.9L296.2 866.9L297.2 866.9L298.2 866.9L299.2 866.9L300.2 866.9L301.2 866.9L302.2 866.9L303.2 866.9L303.2 866.9L302.2 866.9L301.2 866.9L300.2 866.9L299.2 866.9L298.2 866.9L297.2 866.9L296.2 866.9L295.2 866.9L294.2 866.9L293.2 866.9L292.2 866.9L291.2 866.9L290.2 866.9L289.2 866.9L288.2 866.9L287.2 866.9L286.2 866.9L285.2 866.9L284.2 866.9L283.2 866.9L282.2 866.9L281.2 866.9L280.2 866.9L279.2 866.9L278.2 866.9L277.2 866.9L276.2 866.9L275.2 866.9L274.2 866.9L273.2 866.9L272.2 866.9L271.2 866.9L270.2 866.9L269.2 866.9L268.2 866.9L267.2 866.9L266.2 866.9L265.2 866.9L264.2 866.9L263.2 866.9L262.2 866.9L261.2 866.9L260.2 866.9L259.2 866.9L258.2 866.9L257.2 866.9L256.2 866.9L255.2 866.9L254.2 866.9L253.2 866.9L252.2 866.9L251.2 866.9L250.2 866.9L249.2 866.9L248.2 866.9L247.2 866.9L246.2 866.9L245.2 866.9L244.2 866.9L243.2 866.9L242.2 866.9L241.2 866.9L240.2 866.9L239.2 866.9L238.2 866.9L237.2 866.9L236.2 866.9L235.2 866.9L234.2 866.9L233.2 866.9L232.2 866.9L231.2 866.9L230.2 866.9L229.2 866.9L228.2 866.9L227.2 866.9L226.2 866.9L225.2 866.9L224.2 866.9L223.2 866.9L222.2 866.9L221.2 866.9L220.2 866.9L219.2 866.9L218.2 866.9L217.2 866.9L216.2 866.9L215.2 866.9L214.2 866.9L213.2 866.9L212.2 866.9L211.2 866.9L210.2 866.9L209.2 866.9L208.2 866.9L207.2 866.9L206.2 866.9L205.2 866.9L204.2 866.9L203.2 866.9L202.2 866.9L201.2 866.9L200.2 866.9L199.2 866.9L198.2 866.9L197.2 866.9L196.2 866.9L195.2 866.9L194.2 866.9L193.2 866.9L192.2 866.9L191.2 866.9L190.2 866.9L189.2 866.9L188.2 866.9L187.2 866.9L186.2 866.9L185.2 866.9L184.2 866.9L183.2 866.9L182.2 866.9L181.2 866.9L180.2 866.9L179.2 866.9L178.2 866.9L177.2 866.9L176.2 866.9L175.2 866.9L174.2 866.9L173.2 866.9L172.2 866.9L171.2 866.9L170.2 866.9L169.2 866.9L168.2 866.9L167.2 866.9L166.2 866.9L165.2 866.9L164.2 866.9L163.2 866.9L162.2 866.9L161.2 866.9L160.2 866.9L159.2 866.9L158.2 866.9L157.2 866.9L156.2 866.9L155.2 866.9L154.2 866.9L153.2 866.9L152.2 866.9L151.2 866.9L150.2 866.9L149.2 866.9L148.2 866.9L147.2 866.9L146.2 866.9L145.2 866.9L144.2 866.9L143.2 866.9L142.2 866.9L141.2 866.9L140.2 866.9L139.2 866.9L138.2 866.9L137.2 866.9L136.2 866.9L135.2 866.9L134.2 866.9L133.2 866.9L132.2 866.9L131.2 866.9L130.2 866.9L129.2 866.9L128.2 866.9L127.2 866.9L126.2 866.9L125.2 866.9L124.2 866.9L123.2 866.9L122.2 866.9L121.2 866.9L120.2 866.9L119.2 866.9L118.2 866.9L117.2 866.9L116.2 866.9L115.2 866.9L114.2 866.9L113.2 866.9L112.2 866.9L111.2 866.9L110.2 866.9L109.2 866.9L108.2 866.9L107.2 866.9L106.2 866.9L105.2 866.9L104.2 866.9L103.2 866.9L102.2 866.9L101.2 866.9L100.2 866.9L99.2 866.9L98.2 866.9L97.2 866.9L96.2 866.9L95.2 866.9L94.2 866.9L93.2 866.9L92.2 866.9L91.2 866.9L90.2 866.9L89.2 866.9L88.2 866.9L87.2 866.9L86.2 866.9L85.2 866.9L84.2 866.9L83.2 866.9L82.2 866.9L81.2 866.9L80.2 866.9L79.2 866.9L78.2 866.9L77.2 866.9L76.2 866.9L75.2 866.9L74.2 866.9L73.2 866.9L72.2 866.9L71.2 866.9L70.2 866.9L69.2 866.9L68.2 866.9L67.2 866.9L66.2 866.9L65.2 866.9L64.2 866.9L63.2 866.9L62.2 866.9L61.2 866.9L60.2 866.9L59.2 866.9L58.2 866.9Z" fill="#bbc2e2"/>
<path d="M58.2 866.9L59.2 866.9L60.2 866.9L61.2 866.9L62.2 866.9L63.2 866.9L64.2 866.9L65.2 866.9L66.2 866.9L67.2 866.9L68.2 866.9L69.2 866.9L70.2 866.9L71.2 866.9L72.2 866.9L73.2 866.9L74.2 866.9L75.2 866.9L76.2 866.9L77.2 866.9L78.2 866.9L79.2 866.9L80.2 866.9L81.2 866.9L82.2 866.9L83.2 866.9L84.2 866.9L85.2 866.9L86.2 866.9L87.2 866.9L88.2 866.9L89.2 866.9L90.2 866.9L91.2 866.9L92.2 866.9L93.2 866.9L94.2 866.9L95.2 866.9L96.2 866.9L97.2 866.9L98.2 866.9L99.2 866.9L100.2 866.9L101.2 866.9L102.2 866.9L103.2 866.9L104.2 866.9L105.2 866.9L106.2 866.9L107.2 866.9L108.2 866.8L109.2 866.8L110.2 866.8L111.2 866.8L112.2 866.8L113.2 866.7L114.2 866.7L115.2 866.6L116.2 866.6L117.2 866.5L118.2 866.4L119.2 866.3L120.2 866.2L121.2 866.0L122.2 865.8L123.2 865.6L124.2 865.4L125.2 865.1L126.2 864.8L127.2 864.4L128.2 864.0L129.2 863.5L130.2 862.9L131.2 862.3L132.2 861.5L133.2 860.7L134.2 859.8L135.2 858.8L136.2 857.6L137.2 856.4L138.2 855.0L139.2 853.4L140.2 851.8L141.2 849.9L142.2 847.9L143.2 845.8L144.2 843.5L145.2 841.0L146.2 838.4L147.2 835.6L148.2 832.7L149.2 829.7L150.2 826.5L151.2 823.2L152.2 819.8L153.2 816.3L154.2 812.7L155.2 809.1L156.2 805.5L157.2 801.8L158.2 798.2L159.2 794.7L160.2 791.2L161.2 787.9L162.2 784.7L163.2 781.7L164.2 778.8L165.2 776.2L166.2 773.9L167.2 771.8L168.2 770.1L169.2 768.6L170.2 767.5L171.2 766.7L172.2 766.3L173.2 766.2L174.2 766.6L175.2 767.3L176.2 768.5L177.2 770.1L178.2 772.1L179.2 774.5L180.2 777.2L181.2 780.1L182.2 783.4L183.2 786.9L184.2 790.5L185.2 794.3L186.2 798.2L187.2 802.2L188.2 806.2L189.2 810.2L190.2 814.2L191.2 818.1L192.2 821.9L193.2 825.6L194.2 829.2L195.2 832.6L196.2 835.8L197.2 838.8L198.2 841.7L199.2 844.4L200.2 846.8L201.2 849.1L202.2 851.2L203.2 853.1L204.2 854.8L205.2 856.4L206.2 857.8L207.2 859.0L208.2 860.1L209.2 861.1L210.2 861.9L211.2 862.7L212.2 863.3L213.2 863.9L214.2 864.4L215.2 864.8L216.2 865.2L217.2 865.5L218.2 865.7L219.2 865.9L220.2 866.1L221.2 866.3L222.2 866.4L223.2 866.5L224.2 866.6L225.2 866.6L226.2 866.7L227.2 866.7L228.2 866.8L229.2 866.8L230.2 866.8L231.2 866.8L232.2 866.9L233.2 866.9L234.2 866.9L235.2 866.9L236.2 866.9L237.2 866.9L238.2 866.9L239.2 866.9L240.2 866.9L241.2 866.9L242.2 866.9L243.2 866.9L244.2 866.9L245.2 866.9L246.2 866.9L247.2 866.9L248.2 866.9L249.2 866.9L250.2 866.9L251.2 866.9L252.2 866.9L253.2 866.9L254.2 866.9L255.2 866.9L256.2 866.9L257.2 866.9L258.2 866.9L259.2 866.9L260.2 866.9L261.2 866.9L262.2 866.9L263.2 866.9L264.2 866.9L265.2 866.9L266.2 866.9L267.2 866.9L268.2 866.9L269.2 866.9L270.2 866.9L271.2 866.9L272.2 866.9L273.2 866.9L274.2 866.9L275.2 866.9L276.2 866.9L277.2 866.9L278.2 866.9L279.2 866.9L280.2 866.9L281.2 866.9L282.2 866.9L283.2 866.9L284.2 866.9L285.2 866.9L286.2 866.9L287.2 866.9L288.2 866.9L289.2 866.9L290.2 866.9L291.2 866.9L292.2 866.9L293.2 866.9L294.2 866.9L295.2 866.9L296.2 866.9L297.2 866.9L298.2 866.9L299.2 866.9L300.2 866.9L301.2 866.9L302.2 866.9L303.2 866.9L303.2 866.9L302.2 866.9L301.2 866.9L300.2 866.9L299.2 866.9L298.2 866.9L297.2 866.9L296.2 866.9L295.2 866.9L294.2 866.9L293.2 866.9L292.2 866.9L291.2 866.9L290.2 866.9L289.2 866.9L288.2 866.9L287.2 866.9L286.2 866.9L285.2 866.9L284.2 866.9L283.2 866.9L282.2 866.9L281.2 866.9L280.2 866.9L279.2 866.9L278.2 866.9L277.2 866.9L276.2 866.9L275.2 866.9L274.2 866.9L273.2 866.9L272.2 866.9L271.2 866.9L270.2 866.9L269.2 866.9L268.2 866.9L267.2 866.9L266.2 866.9L265.2 866.9L264.2 866.9L263.2 866.9L262.2 866.9L261.2 866.9L260.2 866.9L259.2 866.9L258.2 866.9L257.2 866.9L256.2 866.9L255.2 866.9L254.2 866.9L253.2 866.9L252.2 866.9L251.2 866.9L250.2 866.9L249.2 866.9L248.2 866.9L247.2 866.9L246.2 866.9L245.2 866.9L244.2 866.9L243.2 866.9L242.2 866.9L241.2 866.9L240.2 866.9L239.2 866.9L238.2 866.9L237.2 866.9L236.2 866.9L235.2 866.9L234.2 866.9L233.2 866.9L232.2 866.9L231.2 866.9L230.2 866.9L229.2 866.9L228.2 866.9L227.2 866.9L226.2 866.9L225.2 866.9L224.2 866.9L223.2 866.9L222.2 866.9L221.2 866.9L220.2 866.9L219.2 866.9L218.2 866.9L217.2 866.9L216.2 866.9L215.2 866.9L214.2 866.9L213.2 866.9L212.2 866.9L211.2 866.9L210.2 866.9L209.2 866.9L208.2 866.9L207.2 866.9L206.2 866.9L205.2 866.9L204.2 866.9L203.2 866.9L202.2 866.9L201.2 866.9L200.2 866.9L199.2 866.9L198.2 866.9L197.2 866.9L196.2 866.9L195.2 866.9L194.2 866.9L193.2 866.9L192.2 866.9L191.2 866.9L190.2 866.9L189.2 866.9L188.2 866.9L187.2 866.9L186.2 866.9L185.2 866.9L184.2 866.9L183.2 866.9L182.2 866.9L181.2 866.9L180.2 866.9L179.2 866.9L178.2 866.9L177.2 866.9L176.2 866.9L175.2 866.9L174.2 866.9L173.2 866.9L172.2 866.9L171.2 866.9L170.2 866.9L169.2 866.9L168.2 866.9L167.2 866.9L166.2 866.9L165.2 866.9L164.2 866.9L163.2 866.9L162.2 866.9L161.2 866.9L160.2 866.9L159.2 866.9L158.2 866.9L157.2 866.9L156.2 866.9L155.2 866.9L154.2 866.9L153.2 866.9L152.2 866.9L151.2 866.9L150.2 866.9L149.2 866.9L148.2 866.9L147.2 866.9L146.2 866.9L145.2 866.9L144.2 866.9L143.2 866.9L142.2 866.9L141.2 866.9L140.2 866.9L139.2 866.9L138.2 866.9L137.2 866.9L136.2 866.9L135.2 866.9L134.2 866.9L133.2 866.9L132.2 866.9L131.2 866.9L130.2 866.9L129.2 866.9L128.2 866.9L127.2 866.9L126.2 866.9L125.2 866.9L124.2 866.9L123.2 866.9L122.2 866.9L121.2 866.9L120.2 866.9L119.2 866.9L118.2 866.9L117.2 866.9L116.2 866.9L115.2 866.9L114.2 866.9L113.2 866.9L112.2 866.9L111.2 866.9L110.2 866.9L109.2 866.9L108.2 866.9L107.2 866.9L106.2 866.9L105.2 866.9L104.2 866.9L103.2 866.9L102.2 866.9L101.2 866.9L100.2 866.9L99.2 866.9L98.2 866.9L97.2 866.9L96.2 866.9L95.2 866.9L94.2 866.9L93.2 866.9L92.2 866.9L91.2 866.9L90.2 866.9L89.2 866.9L88.2 866.9L87.2 866.9L86.2 866.9L85.2 866.9L84.2 866.9L83.2 866.9L82.2 866.9L81.2 866.9L80.2 866.9L79.2 866.9L78.2 866.9L77.2 866.9L76.2 866.9L75.2 866.9L74.2 866.9L73.2 866.9L72.2 866.9L71.2 866.9L70.2 866.9L69.2 866.9L68.2 866.9L67.2 866.9L66.2 866.9L65.2 866.9L64.2 866.9L63.2 866.9L62.2 866.9L61.2 866.9L60.2 866.9L59.2 866.9L58.2 866.9Z" fill="#9eb3b7" clip-path="url(#ci)"/>
<path d="M58.2 862.2L59.2 862.1L60.2 862.0L61.2 862.0L62.2 861.9L63.2 861.8L64.2 861.8L65.2 861.7L66.2 861.6L67.2 861.6L68.2 861.5L69.2 861.4L70.2 861.3L71.2 861.2L72.2 861.2L73.2 861.1L74.2 861.0L75.2 860.9L76.2 860.8L77.2 860.7L78.2 860.6L79.2 860.5L80.2 860.4L81.2 860.3L82.2 860.2L83.2 860.1L84.2 860.0L85.2 859.9L86.2 859.8L87.2 859.7L88.2 859.5L89.2 859.4L90.2 859.3L91.2 859.2L92.2 859.0L93.2 858.9L94.2 858.8L95.2 858.6L96.2 858.5L97.2 858.3L98.2 858.2L99.2 858.0L100.2 857.8L101.2 857.7L102.2 857.5L103.2 857.3L104.2 857.2L105.2 857.0L106.2 856.8L107.2 856.6L108.2 856.4L109.2 856.2L110.2 856.0L111.2 855.7L112.2 855.5L113.2 855.3L114.2 855.0L115.2 854.8L116.2 854.5L117.2 854.3L118.2 854.0L119.2 853.7L120.2 853.4L121.2 853.1L122.2 852.8L123.2 852.5L124.2 852.2L125.2 851.9L126.2 851.5L127.2 851.1L128.2 850.8L129.2 850.4L130.2 850.0L131.2 849.6L132.2 849.1L133.2 848.7L134.2 848.2L135.2 847.8L136.2 847.3L137.2 846.8L138.2 846.2L139.2 845.7L140.2 845.1L141.2 844.5L142.2 843.9L143.2 843.2L144.2 842.6L145.2 841.9L146.2 841.2L147.2 840.4L148.2 839.6L149.2 838.8L150.2 837.9L151.2 837.1L152.2 836.1L153.2 835.2L154.2 834.2L155.2 833.1L156.2 832.0L157.2 830.9L158.2 829.7L159.2 828.4L160.2 827.1L161.2 825.8L162.2 824.4L163.2 822.9L164.2 821.3L165.2 819.7L166.2 818.0L167.2 816.2L168.2 814.3L169.2 812.4L170.2 810.4L171.2 808.3L172.2 806.0L173.2 803.7L174.2 801.3L175.2 798.8L176.2 796.2L177.2 793.5L178.2 790.7L179.2 787.7L180.2 784.7L181.2 781.6L182.2 778.3L183.2 775.0L184.2 771.6L185.2 768.1L186.2 764.6L187.2 761.0L188.2 757.4L189.2 753.8L190.2 750.2L191.2 746.7L192.2 743.2L193.2 739.8L194.2 736.6L195.2 733.5L196.2 730.7L197.2 728.1L198.2 725.8L199.2 723.8L200.2 722.2L201.2 720.9L202.2 720.0L203.2 719.6L204.2 719.5L205.2 719.9L206.2 720.7L207.2 721.9L208.2 723.5L209.2 725.4L210.2 727.6L211.2 730.2L212.2 733.0L213.2 736.0L214.2 739.2L215.2 742.5L216.2 746.0L217.2 749.5L218.2 753.1L219.2 756.7L220.2 760.3L221.2 763.9L222.2 767.4L223.2 770.9L224.2 774.3L225.2 777.7L226.2 780.9L227.2 784.1L228.2 787.1L229.2 790.1L230.2 792.9L231.2 795.7L232.2 798.3L233.2 800.8L234.2 803.3L235.2 805.6L236.2 807.8L237.2 810.0L238.2 812.0L239.2 814.0L240.2 815.8L241.2 817.6L242.2 819.3L243.2 821.0L244.2 822.6L245.2 824.1L246.2 825.5L247.2 826.9L248.2 828.2L249.2 829.4L250.2 830.6L251.2 831.8L252.2 832.9L253.2 834.0L254.2 835.0L255.2 835.9L256.2 836.9L257.2 837.8L258.2 838.6L259.2 839.5L260.2 840.2L261.2 841.0L262.2 841.7L263.2 842.4L264.2 843.1L265.2 843.8L266.2 844.4L267.2 845.0L268.2 845.6L269.2 846.1L270.2 846.6L271.2 847.2L272.2 847.7L273.2 848.1L274.2 848.6L275.2 849.1L276.2 849.5L277.2 849.9L278.2 850.3L279.2 850.7L280.2 851.1L281.2 851.4L282.2 851.8L283.2 852.1L284.2 852.5L285.2 852.8L286.2 853.1L287.2 853.4L288.2 853.7L289.2 854.0L290.2 854.2L291.2 854.5L292.2 854.7L293.2 855.0L294.2 855.2L295.2 855.5L296.2 855.7L297.2 855.9L298.2 856.1L299.2 856.3L300.2 856.5L301.2 856.7L302.2 856.9L303.2 857.1" fill="none" stroke="#3b6db5" stroke-width="0.9" stroke-dasharray="1 1.1"/>
<path d="M58.2 866.9L59.2 866.9L60.2 866.9L61.2 866.9L62.2 866.9L63.2 866.9L64.2 866.9L65.2 866.9L66.2 866.9L67.2 866.9L68.2 866.9L69.2 866.9L70.2 866.9L71.2 866.9L72.2 866.9L73.2 866.9L74.2 866.9L75.2 866.9L76.2 866.9L77.2 866.9L78.2 866.9L79.2 866.9L80.2 866.9L81.2 866.9L82.2 866.9L83.2 866.9L84.2 866.9L85.2 866.9L86.2 866.9L87.2 866.9L88.2 866.9L89.2 866.9L90.2 866.9L91.2 866.9L92.2 866.9L93.2 866.9L94.2 866.9L95.2 866.9L96.2 866.9L97.2 866.9L98.2 866.9L99.2 866.9L100.2 866.9L101.2 866.9L102.2 866.9L103.2 866.9L104.2 866.9L105.2 866.9L106.2 866.9L107.2 866.9L108.2 866.8L109.2 866.8L110.2 866.8L111.2 866.8L112.2 866.8L113.2 866.7L114.2 866.7L115.2 866.6L116.2 866.6L117.2 866.5L118.2 866.4L119.2 866.3L120.2 866.2L121.2 866.0L122.2 865.8L123.2 865.6L124.2 865.4L125.2 865.1L126.2 864.8L127.2 864.4L128.2 864.0L129.2 863.5L130.2 862.9L131.2 862.3L132.2 861.5L133.2 860.7L134.2 859.8L135.2 858.8L136.2 857.6L137.2 856.4L138.2 855.0L139.2 853.4L140.2 851.8L141.2 849.9L142.2 847.9L143.2 845.8L144.2 843.5L145.2 841.0L146.2 838.4L147.2 835.6L148.2 832.7L149.2 829.7L150.2 826.5L151.2 823.2L152.2 819.8L153.2 816.3L154.2 812.7L155.2 809.1L156.2 805.5L157.2 801.8L158.2 798.2L159.2 794.7L160.2 791.2L161.2 787.9L162.2 784.7L163.2 781.7L164.2 778.8L165.2 776.2L166.2 773.9L167.2 771.8L168.2 770.1L169.2 768.6L170.2 767.5L171.2 766.7L172.2 766.3L173.2 766.2L174.2 766.6L175.2 767.3L176.2 768.5L177.2 770.1L178.2 772.1L179.2 774.5L180.2 777.2L181.2 780.1L182.2 783.4L183.2 786.9L184.2 790.5L185.2 794.3L186.2 798.2L187.2 802.2L188.2 806.2L189.2 810.2L190.2 814.2L191.2 818.1L192.2 821.9L193.2 825.6L194.2 829.2L195.2 832.6L196.2 835.8L197.2 838.8L198.2 841.7L199.2 844.4L200.2 846.8L201.2 849.1L202.2 851.2L203.2 853.1L204.2 854.8L205.2 856.4L206.2 857.8L207.2 859.0L208.2 860.1L209.2 861.1L210.2 861.9L211.2 862.7L212.2 863.3L213.2 863.9L214.2 864.4L215.2 864.8L216.2 865.2L217.2 865.5L218.2 865.7L219.2 865.9L220.2 866.1L221.2 866.3L222.2 866.4L223.2 866.5L224.2 866.6L225.2 866.6L226.2 866.7L227.2 866.7L228.2 866.8L229.2 866.8L230.2 866.8L231.2 866.8L232.2 866.9L233.2 866.9L234.2 866.9L235.2 866.9L236.2 866.9L237.2 866.9L238.2 866.9L239.2 866.9L240.2 866.9L241.2 866.9L242.2 866.9L243.2 866.9L244.2 866.9L245.2 866.9L246.2 866.9L247.2 866.9L248.2 866.9L249.2 866.9L250.2 866.9L251.2 866.9L252.2 866.9L253.2 866.9L254.2 866.9L255.2 866.9L256.2 866.9L257.2 866.9L258.2 866.9L259.2 866.9L260.2 866.9L261.2 866.9L262.2 866.9L263.2 866.9L264.2 866.9L265.2 866.9L266.2 866.9L267.2 866.9L268.2 866.9L269.2 866.9L270.2 866.9L271.2 866.9L272.2 866.9L273.2 866.9L274.2 866.9L275.2 866.9L276.2 866.9L277.2 866.9L278.2 866.9L279.2 866.9L280.2 866.9L281.2 866.9L282.2 866.9L283.2 866.9L284.2 866.9L285.2 866.9L286.2 866.9L287.2 866.9L288.2 866.9L289.2 866.9L290.2 866.9L291.2 866.9L292.2 866.9L293.2 866.9L294.2 866.9L295.2 866.9L296.2 866.9L297.2 866.9L298.2 866.9L299.2 866.9L300.2 866.9L301.2 866.9L302.2 866.9L303.2 866.9" fill="none" stroke="#3b6db5" stroke-width="0.9" stroke-dasharray="1 1.1"/>
<path d="M58.2 866.9H304.2" fill="none" stroke="#3b6db5" stroke-width="0.9" stroke-dasharray="1 1.1"/>
<path d="M58.2 844.5L59.2 844.3L60.2 844.0L61.2 843.8L62.2 843.6L63.2 843.4L64.2 843.2L65.2 843.0L66.2 842.9L67.2 842.7L68.2 842.6L69.2 842.5L70.2 842.3L71.2 842.2L72.2 842.1L73.2 842.0L74.2 842.0L75.2 841.9L76.2 841.8L77.2 841.8L78.2 841.7L79.2 841.7L80.2 841.6L81.2 841.6L82.2 841.5L83.2 841.5L84.2 841.4L85.2 841.4L86.2 841.3L87.2 841.3L88.2 841.2L89.2 841.2L90.2 841.1L91.2 841.0L92.2 841.0L93.2 840.9L94.2 840.8L95.2 840.7L96.2 840.6L97.2 840.5L98.2 840.4L99.2 840.2L100.2 840.1L101.2 839.9L102.2 839.8L103.2 839.6L104.2 839.4L105.2 839.2L106.2 839.0L107.2 838.7L108.2 838.5L109.2 838.2L110.2 837.9L111.2 837.6L112.2 837.2L113.2 836.9L114.2 836.5L115.2 836.1L116.2 835.7L117.2 835.2L118.2 834.7L119.2 834.2L120.2 833.7L121.2 833.2L122.2 832.6L123.2 832.0L124.2 831.4L125.2 830.7L126.2 830.0L127.2 829.3L128.2 828.5L129.2 827.7L130.2 826.8L131.2 825.9L132.2 824.9L133.2 823.8L134.2 822.6L135.2 821.3L136.2 819.9L137.2 818.4L138.2 816.8L139.2 815.1L140.2 813.1L141.2 811.1L142.2 808.9L143.2 806.5L144.2 803.9L145.2 801.2L146.2 798.2L147.2 795.0L148.2 791.7L149.2 788.1L150.2 784.3L151.2 780.3L152.2 776.1L153.2 771.7L154.2 767.2L155.2 762.6L156.2 757.9L157.2 753.1L158.2 748.2L159.2 743.3L160.2 738.4L161.2 733.5L162.2 728.6L163.2 723.7L164.2 718.9L165.2 714.2L166.2 709.7L167.2 705.3L168.2 701.2L169.2 697.4L170.2 693.9L171.2 690.7L172.2 687.9L173.2 685.4L174.2 683.2L175.2 681.3L176.2 679.6L177.2 678.2L178.2 677.0L179.2 676.0L180.2 675.1L181.2 674.5L182.1 673.9L183.1 673.5L184.1 673.2L185.1 673.0L186.1 672.8L187.1 672.7L188.1 672.6L189.1 672.5L190.1 672.4L191.1 672.4L192.1 672.4L193.1 672.4L194.1 672.6L195.1 672.8L196.1 673.2L197.1 673.6L198.1 674.3L199.1 675.0L200.1 676.0L201.1 677.2L202.1 678.5L203.1 680.1L204.1 681.9L205.1 683.9L206.1 686.1L207.1 688.5L208.1 691.1L209.1 693.9L210.1 697.0L211.1 700.3L212.1 703.8L213.1 707.5L214.1 711.4L215.1 715.5L216.1 719.8L217.1 724.2L218.1 728.6L219.1 733.1L220.1 737.6L221.1 742.0L222.1 746.4L223.1 750.7L224.1 754.9L225.1 758.9L226.1 762.7L227.1 766.3L228.1 769.8L229.1 773.1L230.1 776.2L231.1 779.1L232.1 781.9L233.1 784.6L234.1 787.2L235.1 789.6L236.1 791.9L237.1 794.1L238.1 796.2L239.1 798.2L240.1 800.1L241.1 801.9L242.1 803.5L243.1 805.1L244.1 806.6L245.1 808.1L246.1 809.4L247.1 810.7L248.1 811.9L249.1 813.0L250.1 814.1L251.1 815.1L252.1 816.0L253.1 816.9L254.1 817.8L255.1 818.6L256.1 819.4L257.1 820.2L258.1 820.9L259.1 821.6L260.1 822.3L261.1 823.0L262.1 823.6L263.1 824.2L264.1 824.9L265.1 825.5L266.1 826.1L267.1 826.7L268.1 827.3L269.1 827.8L270.1 828.4L271.1 828.9L272.1 829.4L273.1 829.9L274.1 830.4L275.1 830.9L276.1 831.4L277.1 831.9L278.1 832.3L279.1 832.8L280.1 833.2L281.1 833.6L282.1 834.0L283.1 834.4L284.1 834.8L285.1 835.1L286.1 835.5L287.1 835.8L288.1 836.2L289.1 836.5L290.1 836.8L291.1 837.1L292.1 837.4L293.1 837.7L294.1 837.9L295.1 838.2L296.1 838.4L297.1 838.6L298.1 838.9L299.1 839.1L300.1 839.3L301.1 839.5L302.1 839.6L303.1 839.8L304.1 840.0" fill="none" stroke="#3b6db5" stroke-width="2"/>
<g fill="#3b6db5"><circle cx="58.2" cy="843.1" r="2.2"/><circle cx="61" cy="837.9" r="2.2"/><circle cx="63.8" cy="834.9" r="2.2"/><circle cx="66.9" cy="837.2" r="2.2"/><circle cx="69.9" cy="841.2" r="2.2"/><circle cx="72.7" cy="841.2" r="2.2"/><circle cx="75.7" cy="843.8" r="2.2"/><circle cx="78.6" cy="843.1" r="2.2"/><circle cx="81.6" cy="848.5" r="2.2"/><circle cx="84.4" cy="844.3" r="2.2"/><circle cx="87.4" cy="845" r="2.2"/><circle cx="90.2" cy="841.2" r="2.2"/><circle cx="93.3" cy="843.6" r="2.2"/><circle cx="96.1" cy="849.4" r="2.2"/><circle cx="99.1" cy="846.6" r="2.2"/><circle cx="101.9" cy="846.1" r="2.2"/><circle cx="105" cy="836.8" r="2.2"/><circle cx="107.8" cy="847.8" r="2.2"/><circle cx="110.8" cy="847.1" r="2.2"/><circle cx="113.6" cy="839.6" r="2.2"/><circle cx="116.6" cy="836.8" r="2.2"/><circle cx="119.4" cy="840" r="2.2"/><circle cx="122.5" cy="847.1" r="2.2"/><circle cx="125.3" cy="834.9" r="2.2"/><circle cx="128.3" cy="827.9" r="2.2"/><circle cx="131.1" cy="825.6" r="2.2"/><circle cx="134.2" cy="823.2" r="2.2"/><circle cx="137" cy="815.5" r="2.2"/><circle cx="140" cy="810.4" r="2.2"/><circle cx="142.8" cy="801.7" r="2.2"/><circle cx="145.8" cy="796" r="2.2"/><circle cx="148.6" cy="784" r="2.2"/><circle cx="151.7" cy="773.2" r="2.2"/><circle cx="154.5" cy="760.8" r="2.2"/><circle cx="157.5" cy="748.2" r="2.2"/><circle cx="160.3" cy="735.8" r="2.2"/><circle cx="163.4" cy="721.1" r="2.2"/><circle cx="166.4" cy="710.8" r="2.2"/><circle cx="169.2" cy="698.9" r="2.2"/><circle cx="172" cy="690.1" r="2.2"/><circle cx="175" cy="684.4" r="2.2"/><circle cx="177.9" cy="683.2" r="2.2"/><circle cx="180.9" cy="672.7" r="2.2"/><circle cx="183.7" cy="669.4" r="2.2"/><circle cx="186.7" cy="665.3" r="2.2"/><circle cx="189.5" cy="661.5" r="2.2"/><circle cx="192.4" cy="666.3" r="2.2"/><circle cx="195.4" cy="674.6" r="2.2"/><circle cx="198.4" cy="679.8" r="2.2"/><circle cx="201.4" cy="681.4" r="2.2"/><circle cx="204.3" cy="688.5" r="2.2"/><circle cx="207.3" cy="701.5" r="2.2"/><circle cx="210.2" cy="710.8" r="2.2"/><circle cx="213.1" cy="718.6" r="2.2"/><circle cx="216.1" cy="731.4" r="2.2"/><circle cx="219" cy="740.2" r="2.2"/><circle cx="222" cy="741.9" r="2.2"/><circle cx="224.9" cy="757.1" r="2.2"/><circle cx="227.8" cy="766.4" r="2.2"/><circle cx="230.8" cy="767.6" r="2.2"/><circle cx="233.7" cy="777.5" r="2.2"/><circle cx="236.7" cy="778.7" r="2.2"/><circle cx="239.6" cy="779.9" r="2.2"/><circle cx="242.5" cy="795.3" r="2.2"/><circle cx="245.5" cy="793.4" r="2.2"/><circle cx="248.4" cy="796.6" r="2.2"/><circle cx="251.4" cy="798.3" r="2.2"/><circle cx="254.3" cy="814.7" r="2.2"/><circle cx="257.3" cy="803.7" r="2.2"/><circle cx="260.2" cy="809.3" r="2.2"/><circle cx="263.1" cy="811.8" r="2.2"/><circle cx="266.1" cy="816.7" r="2.2"/><circle cx="269" cy="819.1" r="2.2"/><circle cx="272" cy="814.2" r="2.2"/><circle cx="274.9" cy="823.5" r="2.2"/><circle cx="277.8" cy="826.5" r="2.2"/><circle cx="280.8" cy="825.2" r="2.2"/><circle cx="283.7" cy="817.2" r="2.2"/><circle cx="286.7" cy="835" r="2.2"/><circle cx="289.6" cy="843.6" r="2.2"/><circle cx="292.5" cy="836.8" r="2.2"/><circle cx="295.5" cy="829.7" r="2.2"/><circle cx="298.4" cy="834.3" r="2.2"/><circle cx="301.4" cy="849.8" r="2.2"/><circle cx="304.3" cy="841.2" r="2.2"/></g>
<path d="M55.6 878.5v4M70.2 878.5v2.2M84.7 878.5v2.2M99.3 878.5v2.2M113.8 878.5v4M128.4 878.5v2.2M143.0 878.5v2.2M157.5 878.5v2.2M172.1 878.5v4M186.6 878.5v2.2M201.2 878.5v2.2M215.8 878.5v2.2M230.3 878.5v4M244.9 878.5v2.2M259.4 878.5v2.2M274.0 878.5v2.2M288.6 878.5v4M303.1 878.5v2.2" stroke="#3a3a3a" stroke-width="0.8" fill="none"/>
<path d="M33.6 0V885.8H641.2" fill="none" stroke="#000" stroke-width="1.9"/>
<path d="M32.6 1H641.2" fill="none" stroke="#000" stroke-width="2"/>
<path d="M640.1 0V886.6" fill="none" stroke="#000" stroke-width="1.9"/>
<path d="M60.8 886v10.4M189.1 886v10.4M317.4 886v10.4M445.8 886v10.4M574.1 886v10.4" stroke="#000" stroke-width="2.8" fill="none"/>
<path d="M92.9 886v5.2M125.0 886v5.2M157.0 886v5.2M221.2 886v5.2M253.3 886v5.2M285.4 886v5.2M349.5 886v5.2M381.6 886v5.2M413.7 886v5.2M477.8 886v5.2M509.9 886v5.2M542.0 886v5.2M606.2 886v5.2M638.2 886v5.2" stroke="#000" stroke-width="1.3" fill="none"/>
<g font-family="'Liberation Sans', Arial, Helvetica, sans-serif" font-size="24.8" fill="#000">
<text x="60.8" y="926.1" text-anchor="middle">538</text>
<text x="189.1" y="926.1" text-anchor="middle">536</text>
<text x="317.4" y="926.1" text-anchor="middle">534</text>
<text x="445.8" y="926.1" text-anchor="middle">532</text>
<text x="574.1" y="926.1" text-anchor="middle">530</text>
<text x="229.7" y="954.2" textLength="83.3" lengthAdjust="spacingAndGlyphs">Binding</text>
<text x="319.4" y="954.2" textLength="73.4" lengthAdjust="spacingAndGlyphs">energy</text>
<text x="399.5" y="954.2" textLength="41.2" lengthAdjust="spacingAndGlyphs">(eV)</text>
<text x="511.8" y="52.7">O 1s</text>
<text transform="translate(18.5 557.9) rotate(-90)">Intensity</text>
<text transform="translate(18.5 459.3) rotate(-90)" textLength="48.95" lengthAdjust="spacingAndGlyphs">(arb.</text>
<text transform="translate(18.5 403.7) rotate(-90)" textLength="58.7" lengthAdjust="spacingAndGlyphs">units)</text>
</g>
</svg>
</body></html>
